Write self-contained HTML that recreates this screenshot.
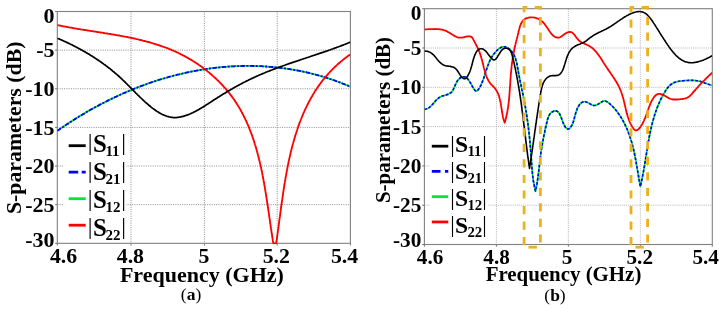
<!DOCTYPE html>
<html><head><meta charset="utf-8"><title>S-parameters</title>
<style>html,body{margin:0;padding:0;background:#fff;} svg{display:block;}</style></head>
<body>
<svg width="722" height="309" viewBox="0 0 722 309">
<rect width="722" height="309" fill="#fff"/>
<clipPath id="cL"><rect x="57.3" y="11.5" width="293.1" height="233"/></clipPath>
<path d="M131,11.5V243.3 M204.4,11.5V243.3 M277.2,11.5V243.3 M57.3,50.13H350.4 M57.3,88.77H350.4 M57.3,127.4H350.4 M57.3,166.03H350.4 M57.3,204.67H350.4" stroke="#8c8c8c" stroke-width="1" stroke-dasharray="1 1.27" fill="none"/>
<rect x="64" y="130" width="62" height="110" fill="#fff"/>
<path d="M57.3,243.3v2.2 M131,243.3v2.2 M204.4,243.3v2.2 M277.2,243.3v2.2 M350.4,243.3v2.2 M57.3,11.5h-2.2 M57.3,50.13h-2.2 M57.3,88.77h-2.2 M57.3,127.4h-2.2 M57.3,166.03h-2.2 M57.3,204.67h-2.2 M57.3,243.3h-2.2" stroke="#707070" stroke-width="1" fill="none"/>
<rect x="57.3" y="11.5" width="293.1" height="231.8" fill="none" stroke="#808080" stroke-width="1.1"/>
<g clip-path="url(#cL)" fill="none" stroke-width="2.6" stroke-linejoin="round" stroke-linecap="butt">
<path d="M57.3,130.8 58,130.3 58.6,129.9 59.3,129.4 59.9,129.0 60.6,128.5 61.2,128.1 61.9,127.6 62.6,127.2 63.2,126.7 63.9,126.3 64.6,125.8 65.2,125.4 65.9,124.9 66.6,124.5 67.2,124.1 67.9,123.6 68.6,123.2 69.2,122.8 69.9,122.3 70.6,121.9 71.3,121.4 71.9,121.0 72.6,120.6 73.3,120.2 74,119.7 74.6,119.3 75.3,118.9 76,118.4 76.7,118.0 77.4,117.6 78.1,117.2 78.7,116.8 79.4,116.3 80.1,115.9 80.8,115.5 81.5,115.1 82.2,114.7 82.9,114.3 83.6,113.9 84.3,113.5 84.9,113.0 85.6,112.6 86.3,112.2 87,111.8 87.7,111.4 88.4,111.0 89.1,110.6 89.8,110.2 90.5,109.8 91.2,109.4 91.9,109.0 92.6,108.7 93.3,108.3 94,107.9 94.7,107.5 95.4,107.1 96.2,106.7 96.9,106.3 97.6,106.0 98.3,105.6 99,105.2 99.7,104.8 100.4,104.4 101.1,104.1 101.8,103.7 102.6,103.3 103.3,102.9 104,102.6 104.7,102.2 105.4,101.8 106.1,101.5 106.9,101.1 107.6,100.8 108.3,100.4 109,100.0 109.7,99.7 110.5,99.3 111.2,99.0 111.9,98.6 112.6,98.3 113.4,97.9 114.1,97.6 114.8,97.2 115.6,96.9 116.3,96.6 117,96.2 117.7,95.9 118.5,95.5 119.2,95.2 119.9,94.9 120.7,94.5 121.4,94.2 122.1,93.9 122.9,93.5 123.6,93.2 124.4,92.9 125.1,92.6 125.8,92.3 126.6,91.9 127.3,91.6 128,91.3 128.8,91.0 129.5,90.7 130.3,90.4 131,90.1 131.8,89.8 132.5,89.4 133.3,89.1 134,88.8 134.7,88.5 135.5,88.2 136.2,87.9 137,87.7 137.7,87.4 138.5,87.1 139.2,86.8 140,86.5 140.7,86.2 141.5,85.9 142.2,85.6 143,85.4 143.8,85.1 144.5,84.8 145.3,84.5 146,84.3 146.8,84.0 147.5,83.7 148.3,83.4 149.1,83.2 149.8,82.9 150.6,82.7 151.3,82.4 152.1,82.1 152.9,81.9 153.6,81.6 154.4,81.4 155.1,81.1 155.9,80.9 156.7,80.6 157.4,80.4 158.2,80.1 159,79.9 159.7,79.7 160.5,79.4 161.3,79.2 162,78.9 162.8,78.7 163.6,78.5 164.3,78.3 165.1,78.0 165.9,77.8 166.7,77.6 167.4,77.4 168.2,77.2 169,76.9 169.8,76.7 170.5,76.5 171.3,76.3 172.1,76.1 172.9,75.9 173.6,75.7 174.4,75.5 175.2,75.3 176,75.1 176.7,74.9 177.5,74.7 178.3,74.5 179.1,74.3 179.8,74.1 180.6,73.9 181.4,73.8 182.2,73.6 183,73.4 183.8,73.2 184.5,73.0 185.3,72.9 186.1,72.7 186.9,72.5 187.7,72.4 188.4,72.2 189.2,72.0 190,71.9 190.8,71.7 191.6,71.6 192.4,71.4 193.2,71.2 193.9,71.1 194.7,70.9 195.5,70.8 196.3,70.7 197.1,70.5 197.9,70.4 198.7,70.2 199.5,70.1 200.2,70.0 201,69.8 201.8,69.7 202.6,69.6 203.4,69.5 204.2,69.3 205,69.2 205.8,69.1 206.6,69.0 207.4,68.9 208.1,68.7 208.9,68.6 209.7,68.5 210.5,68.4 211.3,68.3 212.1,68.2 212.9,68.1 213.7,68.0 214.5,67.9 215.3,67.8 216.1,67.7 216.9,67.7 217.7,67.6 218.5,67.5 219.3,67.4 220,67.3 220.8,67.2 221.6,67.2 222.4,67.1 223.2,67.0 224,66.9 224.8,66.9 225.6,66.8 226.4,66.8 227.2,66.7 228,66.6 228.8,66.6 229.6,66.5 230.4,66.5 231.2,66.4 232,66.4 232.8,66.3 233.6,66.3 234.4,66.3 235.2,66.2 236,66.2 236.8,66.1 237.6,66.1 238.4,66.1 239.2,66.1 240,66.0 240.7,66.0 241.5,66.0 242.3,66.0 243.1,66.0 243.9,65.9 244.7,65.9 245.5,65.9 246.3,65.9 247.1,65.9 247.9,65.9 248.7,65.9 249.5,65.9 250.3,65.9 251.1,65.9 251.9,65.9 252.7,66.0 253.5,66.0 254.3,66.0 255.1,66.0 255.9,66.0 256.7,66.1 257.5,66.1 258.3,66.1 259.1,66.1 259.9,66.2 260.7,66.2 261.5,66.2 262.3,66.3 263.1,66.3 263.9,66.4 264.7,66.4 265.5,66.5 266.3,66.5 267,66.6 267.8,66.6 268.6,66.7 269.4,66.8 270.2,66.8 271,66.9 271.8,67.0 272.6,67.0 273.4,67.1 274.2,67.2 275,67.3 275.8,67.3 276.6,67.4 277.4,67.5 278.2,67.6 279,67.7 279.8,67.8 280.6,67.9 281.3,68.0 282.1,68.1 282.9,68.2 283.7,68.3 284.5,68.4 285.3,68.5 286.1,68.6 286.9,68.7 287.7,68.8 288.5,68.9 289.3,69.1 290,69.2 290.8,69.3 291.6,69.5 292.4,69.6 293.2,69.7 294,69.9 294.8,70.0 295.6,70.1 296.4,70.3 297.1,70.4 297.9,70.6 298.7,70.7 299.5,70.9 300.3,71.0 301.1,71.2 301.9,71.4 302.6,71.5 303.4,71.7 304.2,71.9 305,72.0 305.8,72.2 306.6,72.4 307.3,72.6 308.1,72.7 308.9,72.9 309.7,73.1 310.5,73.3 311.3,73.5 312,73.7 312.8,73.9 313.6,74.1 314.4,74.3 315.2,74.5 315.9,74.7 316.7,74.9 317.5,75.1 318.3,75.3 319,75.5 319.8,75.8 320.6,76.0 321.4,76.2 322.1,76.4 322.9,76.7 323.7,76.9 324.5,77.1 325.2,77.4 326,77.6 326.8,77.9 327.5,78.1 328.3,78.4 329.1,78.6 329.9,78.9 330.6,79.1 331.4,79.4 332.2,79.6 332.9,79.9 333.7,80.2 334.5,80.4 335.2,80.7 336,81.0 336.8,81.3 337.5,81.5 338.3,81.8 339,82.1 339.8,82.4 340.6,82.7 341.3,83.0 342.1,83.3 342.8,83.6 343.6,83.9 344.4,84.2 345.1,84.5 345.9,84.8 346.6,85.1 347.4,85.4 348.1,85.7 348.9,86.1 349.6,86.4 350.4,86.7" stroke="#00e632" stroke-width="1.8"/>
<path d="M57.3,130.8 58,130.3 58.6,129.9 59.3,129.4 59.9,129.0 60.6,128.5 61.2,128.1 61.9,127.6 62.6,127.2 63.2,126.7 63.9,126.3 64.6,125.8 65.2,125.4 65.9,124.9 66.6,124.5 67.2,124.1 67.9,123.6 68.6,123.2 69.2,122.8 69.9,122.3 70.6,121.9 71.3,121.4 71.9,121.0 72.6,120.6 73.3,120.2 74,119.7 74.6,119.3 75.3,118.9 76,118.4 76.7,118.0 77.4,117.6 78.1,117.2 78.7,116.8 79.4,116.3 80.1,115.9 80.8,115.5 81.5,115.1 82.2,114.7 82.9,114.3 83.6,113.9 84.3,113.5 84.9,113.0 85.6,112.6 86.3,112.2 87,111.8 87.7,111.4 88.4,111.0 89.1,110.6 89.8,110.2 90.5,109.8 91.2,109.4 91.9,109.0 92.6,108.7 93.3,108.3 94,107.9 94.7,107.5 95.4,107.1 96.2,106.7 96.9,106.3 97.6,106.0 98.3,105.6 99,105.2 99.7,104.8 100.4,104.4 101.1,104.1 101.8,103.7 102.6,103.3 103.3,102.9 104,102.6 104.7,102.2 105.4,101.8 106.1,101.5 106.9,101.1 107.6,100.8 108.3,100.4 109,100.0 109.7,99.7 110.5,99.3 111.2,99.0 111.9,98.6 112.6,98.3 113.4,97.9 114.1,97.6 114.8,97.2 115.6,96.9 116.3,96.6 117,96.2 117.7,95.9 118.5,95.5 119.2,95.2 119.9,94.9 120.7,94.5 121.4,94.2 122.1,93.9 122.9,93.5 123.6,93.2 124.4,92.9 125.1,92.6 125.8,92.3 126.6,91.9 127.3,91.6 128,91.3 128.8,91.0 129.5,90.7 130.3,90.4 131,90.1 131.8,89.8 132.5,89.4 133.3,89.1 134,88.8 134.7,88.5 135.5,88.2 136.2,87.9 137,87.7 137.7,87.4 138.5,87.1 139.2,86.8 140,86.5 140.7,86.2 141.5,85.9 142.2,85.6 143,85.4 143.8,85.1 144.5,84.8 145.3,84.5 146,84.3 146.8,84.0 147.5,83.7 148.3,83.4 149.1,83.2 149.8,82.9 150.6,82.7 151.3,82.4 152.1,82.1 152.9,81.9 153.6,81.6 154.4,81.4 155.1,81.1 155.9,80.9 156.7,80.6 157.4,80.4 158.2,80.1 159,79.9 159.7,79.7 160.5,79.4 161.3,79.2 162,78.9 162.8,78.7 163.6,78.5 164.3,78.3 165.1,78.0 165.9,77.8 166.7,77.6 167.4,77.4 168.2,77.2 169,76.9 169.8,76.7 170.5,76.5 171.3,76.3 172.1,76.1 172.9,75.9 173.6,75.7 174.4,75.5 175.2,75.3 176,75.1 176.7,74.9 177.5,74.7 178.3,74.5 179.1,74.3 179.8,74.1 180.6,73.9 181.4,73.8 182.2,73.6 183,73.4 183.8,73.2 184.5,73.0 185.3,72.9 186.1,72.7 186.9,72.5 187.7,72.4 188.4,72.2 189.2,72.0 190,71.9 190.8,71.7 191.6,71.6 192.4,71.4 193.2,71.2 193.9,71.1 194.7,70.9 195.5,70.8 196.3,70.7 197.1,70.5 197.9,70.4 198.7,70.2 199.5,70.1 200.2,70.0 201,69.8 201.8,69.7 202.6,69.6 203.4,69.5 204.2,69.3 205,69.2 205.8,69.1 206.6,69.0 207.4,68.9 208.1,68.7 208.9,68.6 209.7,68.5 210.5,68.4 211.3,68.3 212.1,68.2 212.9,68.1 213.7,68.0 214.5,67.9 215.3,67.8 216.1,67.7 216.9,67.7 217.7,67.6 218.5,67.5 219.3,67.4 220,67.3 220.8,67.2 221.6,67.2 222.4,67.1 223.2,67.0 224,66.9 224.8,66.9 225.6,66.8 226.4,66.8 227.2,66.7 228,66.6 228.8,66.6 229.6,66.5 230.4,66.5 231.2,66.4 232,66.4 232.8,66.3 233.6,66.3 234.4,66.3 235.2,66.2 236,66.2 236.8,66.1 237.6,66.1 238.4,66.1 239.2,66.1 240,66.0 240.7,66.0 241.5,66.0 242.3,66.0 243.1,66.0 243.9,65.9 244.7,65.9 245.5,65.9 246.3,65.9 247.1,65.9 247.9,65.9 248.7,65.9 249.5,65.9 250.3,65.9 251.1,65.9 251.9,65.9 252.7,66.0 253.5,66.0 254.3,66.0 255.1,66.0 255.9,66.0 256.7,66.1 257.5,66.1 258.3,66.1 259.1,66.1 259.9,66.2 260.7,66.2 261.5,66.2 262.3,66.3 263.1,66.3 263.9,66.4 264.7,66.4 265.5,66.5 266.3,66.5 267,66.6 267.8,66.6 268.6,66.7 269.4,66.8 270.2,66.8 271,66.9 271.8,67.0 272.6,67.0 273.4,67.1 274.2,67.2 275,67.3 275.8,67.3 276.6,67.4 277.4,67.5 278.2,67.6 279,67.7 279.8,67.8 280.6,67.9 281.3,68.0 282.1,68.1 282.9,68.2 283.7,68.3 284.5,68.4 285.3,68.5 286.1,68.6 286.9,68.7 287.7,68.8 288.5,68.9 289.3,69.1 290,69.2 290.8,69.3 291.6,69.5 292.4,69.6 293.2,69.7 294,69.9 294.8,70.0 295.6,70.1 296.4,70.3 297.1,70.4 297.9,70.6 298.7,70.7 299.5,70.9 300.3,71.0 301.1,71.2 301.9,71.4 302.6,71.5 303.4,71.7 304.2,71.9 305,72.0 305.8,72.2 306.6,72.4 307.3,72.6 308.1,72.7 308.9,72.9 309.7,73.1 310.5,73.3 311.3,73.5 312,73.7 312.8,73.9 313.6,74.1 314.4,74.3 315.2,74.5 315.9,74.7 316.7,74.9 317.5,75.1 318.3,75.3 319,75.5 319.8,75.8 320.6,76.0 321.4,76.2 322.1,76.4 322.9,76.7 323.7,76.9 324.5,77.1 325.2,77.4 326,77.6 326.8,77.9 327.5,78.1 328.3,78.4 329.1,78.6 329.9,78.9 330.6,79.1 331.4,79.4 332.2,79.6 332.9,79.9 333.7,80.2 334.5,80.4 335.2,80.7 336,81.0 336.8,81.3 337.5,81.5 338.3,81.8 339,82.1 339.8,82.4 340.6,82.7 341.3,83.0 342.1,83.3 342.8,83.6 343.6,83.9 344.4,84.2 345.1,84.5 345.9,84.8 346.6,85.1 347.4,85.4 348.1,85.7 348.9,86.1 349.6,86.4 350.4,86.7" stroke="#0000ff" stroke-dasharray="4.4 1.5 2 1.5" stroke-width="1.8"/>
<path d="M57.3,25.0 58.1,25.2 58.8,25.3 59.6,25.5 60.4,25.6 61.1,25.8 61.9,26.0 62.7,26.1 63.4,26.3 64.2,26.4 65,26.6 65.8,26.7 66.5,26.9 67.3,27.0 68.1,27.2 68.9,27.3 69.6,27.5 70.4,27.6 71.2,27.7 72,27.9 72.8,28.0 73.5,28.2 74.3,28.3 75.1,28.4 75.9,28.6 76.7,28.7 77.5,28.8 78.3,29.0 79,29.1 79.8,29.2 80.6,29.3 81.4,29.5 82.2,29.6 83,29.7 83.8,29.9 84.6,30.0 85.4,30.1 86.2,30.2 87,30.4 87.8,30.5 88.6,30.6 89.4,30.7 90.2,30.9 91,31.0 91.8,31.1 92.6,31.2 93.4,31.4 94.2,31.5 95,31.6 95.8,31.7 96.6,31.9 97.4,32.0 98.2,32.1 99,32.2 99.8,32.4 100.6,32.5 101.4,32.6 102.2,32.7 103,32.9 103.8,33.0 104.6,33.1 105.4,33.3 106.2,33.4 107,33.5 107.8,33.6 108.6,33.8 109.4,33.9 110.2,34.0 111,34.2 111.8,34.3 112.6,34.4 113.4,34.6 114.2,34.7 115,34.8 115.8,35.0 116.6,35.1 117.4,35.3 118.2,35.4 119,35.5 119.8,35.7 120.6,35.8 121.4,36.0 122.2,36.1 123,36.3 123.8,36.4 124.6,36.6 125.4,36.7 126.2,36.9 127,37.0 127.8,37.2 128.6,37.4 129.4,37.5 130.2,37.7 131,37.9 131.8,38.0 132.6,38.2 133.4,38.4 134.2,38.5 135,38.7 135.7,38.9 136.5,39.1 137.3,39.2 138.1,39.4 138.9,39.6 139.7,39.8 140.5,40.0 141.3,40.2 142.1,40.4 142.8,40.6 143.6,40.8 144.4,41.0 145.2,41.2 146,41.4 146.7,41.6 147.5,41.8 148.3,42.0 149.1,42.2 149.9,42.4 150.6,42.6 151.4,42.9 152.2,43.1 153,43.3 153.7,43.6 154.5,43.8 155.3,44.0 156,44.3 156.8,44.5 157.6,44.8 158.3,45.0 159.1,45.3 159.9,45.5 160.6,45.8 161.4,46.0 162.1,46.3 162.9,46.6 163.7,46.8 164.4,47.1 165.2,47.4 165.9,47.7 166.7,48.0 167.4,48.2 168.2,48.5 168.9,48.8 169.7,49.1 170.4,49.4 171.1,49.7 171.9,50.1 172.6,50.4 173.4,50.7 174.1,51.0 174.8,51.3 175.6,51.7 176.3,52.0 177,52.3 177.7,52.7 178.5,53.0 179.2,53.4 179.9,53.7 180.6,54.1 181.4,54.5 182.1,54.8 182.8,55.2 183.5,55.6 184.2,55.9 184.9,56.3 185.6,56.7 186.3,57.1 187,57.5 187.7,57.9 188.4,58.3 189.1,58.7 189.8,59.1 190.5,59.5 191.2,59.9 191.9,60.3 192.6,60.8 193.3,61.2 193.9,61.6 194.6,62.0 195.3,62.5 196,62.9 196.6,63.4 197.3,63.8 198,64.3 198.6,64.7 199.3,65.2 199.9,65.6 200.6,66.1 201.3,66.6 201.9,67.0 202.6,67.5 203.2,68.0 203.8,68.5 204.5,68.9 205.1,69.4 205.7,69.9 206.4,70.4 207,70.9 207.6,71.4 208.3,71.9 208.9,72.4 209.5,72.9 210.1,73.5 210.7,74.0 211.3,74.5 211.9,75.0 212.5,75.6 213.1,76.1 213.7,76.6 214.3,77.2 214.9,77.7 215.5,78.2 216.1,78.8 216.6,79.3 217.2,79.9 217.8,80.4 218.4,81.0 218.9,81.6 219.5,82.1 220,82.7 220.6,83.3 221.2,83.8 221.7,84.4 222.2,85.0 222.8,85.6 223.3,86.2 223.9,86.8 224.4,87.4 224.9,87.9 225.4,88.5 226,89.1 226.5,89.8 227,90.4 227.5,91.0 228,91.6 228.5,92.2 229,92.8 229.5,93.4 230,94.1 230.4,94.7 230.9,95.3 231.4,95.9 231.9,96.6 232.3,97.2 232.8,97.9 233.3,98.5 233.7,99.1 234.2,99.8 234.6,100.4 235.1,101.1 235.5,101.8 235.9,102.4 236.4,103.1 236.8,103.7 237.2,104.4 237.6,105.1 238,105.7 238.5,106.4 238.9,107.1 239.3,107.8 239.7,108.4 240.1,109.1 240.4,109.8 240.8,110.5 241.2,111.2 241.6,111.9 242,112.6 242.3,113.3 242.7,114.0 243.1,114.7 243.4,115.4 243.8,116.1 244.1,116.8 244.5,117.5 244.8,118.2 245.2,118.9 245.5,119.6 245.9,120.4 246.2,121.1 246.5,121.8 246.8,122.5 247.2,123.2 247.5,124.0 247.8,124.7 248.1,125.4 248.4,126.2 248.7,126.9 249,127.6 249.3,128.4 249.6,129.1 249.9,129.9 250.2,130.6 250.5,131.3 250.8,132.1 251.1,132.8 251.3,133.6 251.6,134.3 251.9,135.1 252.2,135.9 252.4,136.6 252.7,137.4 253,138.1 253.2,138.9 253.5,139.6 253.7,140.4 254,141.2 254.2,141.9 254.5,142.7 254.7,143.5 254.9,144.2 255.2,145.0 255.4,145.8 255.7,146.6 255.9,147.3 256.1,148.1 256.3,148.9 256.6,149.7 256.8,150.5 257,151.2 257.2,152.0 257.4,152.8 257.6,153.6 257.8,154.4 258,155.2 258.2,155.9 258.5,156.7 258.6,157.5 258.8,158.3 259,159.1 259.2,159.9 259.4,160.7 259.6,161.5 259.8,162.3 260,163.1 260.2,163.9 260.4,164.6 260.5,165.4 260.7,166.2 260.9,167.0 261.1,167.8 261.2,168.6 261.4,169.4 261.6,170.2 261.7,171.0 261.9,171.8 262.1,172.6 262.2,173.4 262.4,174.2 262.5,175.0 262.7,175.9 262.9,176.7 263,177.5 263.2,178.3 263.3,179.1 263.5,179.9 263.6,180.7 263.8,181.5 263.9,182.3 264.1,183.1 264.2,183.9 264.3,184.7 264.5,185.5 264.6,186.3 264.8,187.1 264.9,187.9 265,188.7 265.2,189.6 265.3,190.4 265.4,191.2 265.6,192.0 265.7,192.8 265.8,193.6 266,194.4 266.1,195.2 266.2,196.0 266.3,196.8 266.5,197.6 266.6,198.4 266.7,199.2 266.8,200.0 267,200.8 267.1,201.7 267.2,202.5 267.3,203.3 267.5,204.1 267.6,204.9 267.7,205.7 267.8,206.5 267.9,207.3 268.1,208.1 268.2,208.9 268.3,209.7 268.4,210.5 268.5,211.3 268.6,212.1 268.8,212.9 268.9,213.7 269,214.5 269.1,215.3 269.2,216.1 269.3,216.9 269.4,217.7 269.6,218.4 269.7,219.2 269.8,220.0 269.9,220.8 270,221.6 270.1,222.4 270.2,223.2 270.4,224.0 270.5,224.8 270.6,225.5 270.7,226.3 270.8,227.1 270.9,227.9 271,228.7 271.2,229.5 271.3,230.2 271.4,231.0 271.5,231.8 271.6,232.6 271.7,233.3 271.9,234.1 272,234.9 272.1,235.7 272.2,236.4 272.3,237.2 272.4,238.0 272.6,238.7 272.7,239.5 272.8,240.3 272.9,241.0 273.1,241.8 273.2,242.5 273.3,243.3 276.2,243.3 276.3,242.5 276.4,241.8 276.5,241.0 276.6,240.2 276.8,239.5 276.9,238.7 277,237.9 277.1,237.1 277.2,236.4 277.3,235.6 277.4,234.8 277.5,234.0 277.6,233.3 277.7,232.5 277.8,231.7 277.9,230.9 278.1,230.1 278.2,229.4 278.3,228.6 278.4,227.8 278.5,227.0 278.6,226.2 278.7,225.4 278.8,224.6 278.9,223.8 279,223.1 279.1,222.3 279.2,221.5 279.3,220.7 279.4,219.9 279.5,219.1 279.6,218.3 279.7,217.5 279.9,216.7 280,215.9 280.1,215.1 280.2,214.3 280.3,213.5 280.4,212.7 280.5,211.9 280.6,211.1 280.7,210.3 280.8,209.5 280.9,208.7 281,207.9 281.1,207.1 281.3,206.3 281.4,205.5 281.5,204.7 281.6,203.9 281.7,203.1 281.8,202.3 281.9,201.5 282,200.7 282.2,199.9 282.3,199.1 282.4,198.3 282.5,197.5 282.6,196.7 282.7,195.8 282.9,195.0 283,194.2 283.1,193.4 283.2,192.6 283.3,191.8 283.5,191.0 283.6,190.2 283.7,189.4 283.8,188.6 284,187.8 284.1,187.0 284.2,186.2 284.3,185.4 284.5,184.5 284.6,183.7 284.7,182.9 284.9,182.1 285,181.3 285.1,180.5 285.3,179.7 285.4,178.9 285.5,178.1 285.7,177.3 285.8,176.5 286,175.7 286.1,174.9 286.3,174.1 286.4,173.3 286.5,172.5 286.7,171.6 286.8,170.8 287,170.0 287.2,169.2 287.3,168.4 287.5,167.6 287.6,166.8 287.8,166.0 287.9,165.2 288.1,164.4 288.3,163.6 288.4,162.8 288.6,162.0 288.8,161.2 288.9,160.4 289.1,159.6 289.3,158.8 289.5,158.0 289.6,157.3 289.8,156.5 290,155.7 290.2,154.9 290.4,154.1 290.5,153.3 290.7,152.5 290.9,151.7 291.1,150.9 291.3,150.1 291.5,149.3 291.7,148.6 291.9,147.8 292.1,147.0 292.3,146.2 292.5,145.4 292.7,144.6 292.9,143.9 293.1,143.1 293.4,142.3 293.6,141.5 293.8,140.7 294,140.0 294.2,139.2 294.5,138.4 294.7,137.6 294.9,136.9 295.2,136.1 295.4,135.3 295.6,134.6 295.9,133.8 296.1,133.0 296.4,132.3 296.6,131.5 296.8,130.7 297.1,130.0 297.4,129.2 297.6,128.5 297.9,127.7 298.1,126.9 298.4,126.2 298.7,125.4 298.9,124.7 299.2,123.9 299.5,123.2 299.8,122.4 300,121.7 300.3,121.0 300.6,120.2 300.9,119.5 301.2,118.7 301.5,118.0 301.8,117.3 302.1,116.5 302.4,115.8 302.7,115.1 303,114.3 303.3,113.6 303.6,112.9 304,112.1 304.3,111.4 304.6,110.7 304.9,110.0 305.3,109.3 305.6,108.5 305.9,107.8 306.3,107.1 306.6,106.4 307,105.7 307.3,105.0 307.7,104.3 308,103.6 308.4,102.9 308.7,102.2 309.1,101.5 309.5,100.8 309.9,100.1 310.2,99.4 310.6,98.7 311,98.0 311.4,97.3 311.8,96.7 312.2,96.0 312.6,95.3 313,94.6 313.4,93.9 313.8,93.3 314.2,92.6 314.6,91.9 315,91.3 315.4,90.6 315.9,89.9 316.3,89.3 316.7,88.6 317.2,88.0 317.6,87.3 318.1,86.7 318.5,86.0 319,85.4 319.4,84.8 319.9,84.1 320.3,83.5 320.8,82.8 321.3,82.2 321.8,81.6 322.2,81.0 322.7,80.3 323.2,79.7 323.7,79.1 324.2,78.5 324.7,77.9 325.2,77.3 325.7,76.7 326.2,76.1 326.7,75.5 327.3,74.9 327.8,74.3 328.3,73.7 328.9,73.1 329.4,72.5 329.9,71.9 330.5,71.3 331,70.7 331.6,70.2 332.2,69.6 332.7,69.0 333.3,68.5 333.9,67.9 334.4,67.3 335,66.8 335.6,66.2 336.2,65.7 336.8,65.1 337.4,64.6 338,64.0 338.6,63.5 339.2,63.0 339.8,62.4 340.5,61.9 341.1,61.4 341.7,60.9 342.4,60.4 343,59.8 343.7,59.3 344.3,58.8 345,58.3 345.6,57.8 346.3,57.3 347,56.8 347.6,56.3 348.3,55.8 349,55.4 349.7,54.9 350.4,54.4" stroke="#ff0000" stroke-width="1.85"/>
<path d="M57.3,38.2 58,38.5 58.8,38.8 59.5,39.1 60.2,39.5 61,39.8 61.7,40.1 62.4,40.4 63.2,40.7 63.9,41.1 64.6,41.4 65.4,41.7 66.1,42.1 66.8,42.4 67.5,42.7 68.3,43.1 69,43.4 69.7,43.8 70.4,44.1 71.1,44.5 71.9,44.8 72.6,45.2 73.3,45.6 74,45.9 74.7,46.3 75.4,46.7 76.2,47.0 76.9,47.4 77.6,47.8 78.3,48.2 79,48.5 79.7,48.9 80.4,49.3 81.1,49.7 81.8,50.1 82.5,50.5 83.2,50.9 83.9,51.3 84.6,51.7 85.3,52.1 86,52.5 86.7,52.9 87.4,53.3 88.1,53.7 88.8,54.1 89.5,54.5 90.2,55.0 90.8,55.4 91.5,55.8 92.2,56.2 92.9,56.7 93.6,57.1 94.2,57.5 94.9,58.0 95.6,58.4 96.3,58.9 96.9,59.3 97.6,59.7 98.3,60.2 98.9,60.7 99.6,61.1 100.2,61.6 100.9,62.0 101.6,62.5 102.2,63.0 102.9,63.4 103.5,63.9 104.2,64.4 104.8,64.8 105.5,65.3 106.1,65.8 106.7,66.3 107.4,66.8 108,67.3 108.6,67.7 109.3,68.2 109.9,68.7 110.5,69.2 111.2,69.7 111.8,70.2 112.4,70.8 113,71.3 113.6,71.8 114.3,72.3 114.9,72.8 115.5,73.3 116.1,73.8 116.7,74.4 117.3,74.9 117.9,75.4 118.5,76.0 119.1,76.5 119.7,77.0 120.3,77.6 120.9,78.1 121.4,78.7 122,79.2 122.6,79.8 123.2,80.3 123.8,80.9 124.3,81.4 124.9,82.0 125.5,82.5 126,83.1 126.6,83.7 127.2,84.2 127.7,84.8 128.3,85.4 128.9,85.9 129.4,86.5 130,87.1 130.6,87.6 131.1,88.2 131.7,88.8 132.2,89.4 132.8,89.9 133.4,90.5 133.9,91.1 134.5,91.6 135.1,92.2 135.6,92.8 136.2,93.4 136.8,93.9 137.3,94.5 137.9,95.1 138.5,95.6 139.1,96.2 139.6,96.8 140.2,97.3 140.8,97.9 141.4,98.4 142,99.0 142.6,99.6 143.1,100.1 143.7,100.7 144.3,101.2 144.9,101.8 145.5,102.3 146.1,102.8 146.8,103.4 147.4,103.9 148,104.4 148.6,105.0 149.2,105.5 149.9,106.0 150.5,106.5 151.1,107.1 151.8,107.6 152.4,108.1 153.1,108.6 153.8,109.1 154.4,109.5 155.1,110.0 155.7,110.5 156.4,110.9 157.1,111.4 157.8,111.8 158.5,112.2 159.2,112.7 159.8,113.1 160.5,113.4 161.2,113.8 162,114.2 162.7,114.5 163.4,114.9 164.1,115.2 164.8,115.5 165.5,115.7 166.3,116.0 167,116.3 167.7,116.5 168.5,116.7 169.2,116.9 169.9,117.0 170.7,117.2 171.4,117.3 172.2,117.4 173,117.5 173.7,117.5 174.5,117.5 175.2,117.5 176,117.5 176.8,117.5 177.6,117.4 178.3,117.3 179.1,117.2 179.9,117.1 180.7,116.9 181.4,116.7 182.2,116.6 183,116.4 183.8,116.1 184.5,115.9 185.3,115.7 186.1,115.4 186.8,115.2 187.6,114.9 188.3,114.6 189.1,114.3 189.8,114.0 190.6,113.7 191.3,113.3 192,113.0 192.8,112.7 193.5,112.3 194.2,111.9 195,111.6 195.7,111.2 196.4,110.8 197.1,110.4 197.8,110.1 198.5,109.7 199.2,109.3 199.9,108.8 200.6,108.4 201.3,108.0 202,107.6 202.7,107.2 203.4,106.7 204.1,106.3 204.8,105.9 205.5,105.4 206.1,105.0 206.8,104.6 207.5,104.1 208.2,103.7 208.9,103.2 209.6,102.8 210.2,102.4 210.9,101.9 211.6,101.5 212.3,101.0 213,100.6 213.6,100.1 214.3,99.7 215,99.3 215.7,98.8 216.4,98.4 217.1,98.0 217.7,97.5 218.4,97.1 219.1,96.7 219.8,96.2 220.5,95.8 221.1,95.4 221.8,95.0 222.5,94.5 223.2,94.1 223.9,93.7 224.6,93.3 225.3,92.9 225.9,92.5 226.6,92.0 227.3,91.6 228,91.2 228.7,90.8 229.4,90.4 230.1,90.0 230.8,89.6 231.5,89.2 232.2,88.8 232.8,88.4 233.5,88.0 234.2,87.6 234.9,87.2 235.6,86.8 236.3,86.5 237,86.1 237.7,85.7 238.4,85.3 239.1,84.9 239.8,84.5 240.5,84.2 241.2,83.8 241.9,83.4 242.6,83.1 243.3,82.7 244,82.3 244.8,82.0 245.5,81.6 246.2,81.2 246.9,80.9 247.6,80.5 248.3,80.2 249,79.8 249.7,79.5 250.4,79.1 251.2,78.8 251.9,78.4 252.6,78.1 253.3,77.8 254,77.4 254.8,77.1 255.5,76.8 256.2,76.4 256.9,76.1 257.7,75.8 258.4,75.5 259.1,75.1 259.9,74.8 260.6,74.5 261.3,74.2 262.1,73.9 262.8,73.6 263.5,73.3 264.3,73.0 265,72.7 265.7,72.3 266.5,72.0 267.2,71.7 268,71.5 268.7,71.2 269.5,70.9 270.2,70.6 270.9,70.3 271.7,70.0 272.4,69.7 273.2,69.4 273.9,69.1 274.7,68.8 275.4,68.6 276.2,68.3 276.9,68.0 277.7,67.7 278.4,67.4 279.2,67.2 280,66.9 280.7,66.6 281.5,66.3 282.2,66.1 283,65.8 283.7,65.5 284.5,65.3 285.3,65.0 286,64.7 286.8,64.5 287.5,64.2 288.3,63.9 289,63.7 289.8,63.4 290.6,63.1 291.3,62.9 292.1,62.6 292.9,62.4 293.6,62.1 294.4,61.8 295.1,61.6 295.9,61.3 296.7,61.1 297.4,60.8 298.2,60.6 299,60.3 299.7,60.1 300.5,59.8 301.3,59.5 302,59.3 302.8,59.0 303.6,58.8 304.3,58.5 305.1,58.3 305.9,58.0 306.6,57.8 307.4,57.5 308.1,57.3 308.9,57.0 309.7,56.8 310.4,56.5 311.2,56.2 312,56.0 312.7,55.7 313.5,55.5 314.3,55.2 315,55.0 315.8,54.7 316.6,54.5 317.3,54.2 318.1,53.9 318.8,53.7 319.6,53.4 320.4,53.2 321.1,52.9 321.9,52.7 322.7,52.4 323.4,52.1 324.2,51.9 324.9,51.6 325.7,51.4 326.5,51.1 327.2,50.8 328,50.6 328.7,50.3 329.5,50.0 330.2,49.8 331,49.5 331.8,49.2 332.5,49.0 333.3,48.7 334,48.4 334.8,48.1 335.5,47.9 336.3,47.6 337,47.3 337.8,47.0 338.5,46.8 339.3,46.5 340,46.2 340.8,45.9 341.5,45.6 342.3,45.3 343,45.1 343.7,44.8 344.5,44.5 345.2,44.2 346,43.9 346.7,43.6 347.5,43.3 348.2,43.0 348.9,42.7 349.7,42.4 350.4,42.1" stroke="#000000" stroke-width="1.75"/>
</g>
<path d="M68.7,145.7H85.7" stroke="#000000" stroke-width="2.8"/>
<text x="87.8" y="149.7" font-size="23.6" font-family="'Liberation Serif', serif">|</text>
<text x="93.1" y="151.5" font-size="24.8" font-weight="bold" font-family="'Liberation Serif', serif">S</text>
<text x="105.4" y="155.9" font-size="15" font-weight="bold" font-family="'Liberation Serif', serif">11</text>
<text x="121.3" y="149.7" font-size="23.6" font-family="'Liberation Serif', serif">|</text>
<path d="M68.7,172.2h9.5M81.7,172.2H85.7" stroke="#0000ff" stroke-width="2.8"/>
<text x="87.8" y="177.8" font-size="23.6" font-family="'Liberation Serif', serif">|</text>
<text x="93.1" y="179.6" font-size="24.8" font-weight="bold" font-family="'Liberation Serif', serif">S</text>
<text x="105.4" y="184" font-size="15" font-weight="bold" font-family="'Liberation Serif', serif">21</text>
<text x="121.3" y="177.8" font-size="23.6" font-family="'Liberation Serif', serif">|</text>
<path d="M68.7,198.7H85.7" stroke="#00e632" stroke-width="2.8"/>
<text x="87.8" y="205.9" font-size="23.6" font-family="'Liberation Serif', serif">|</text>
<text x="93.1" y="207.7" font-size="24.8" font-weight="bold" font-family="'Liberation Serif', serif">S</text>
<text x="105.4" y="212.1" font-size="15" font-weight="bold" font-family="'Liberation Serif', serif">12</text>
<text x="121.3" y="205.9" font-size="23.6" font-family="'Liberation Serif', serif">|</text>
<path d="M68.7,225.2H85.7" stroke="#ff0000" stroke-width="2.8"/>
<text x="87.8" y="234" font-size="23.6" font-family="'Liberation Serif', serif">|</text>
<text x="93.1" y="235.8" font-size="24.8" font-weight="bold" font-family="'Liberation Serif', serif">S</text>
<text x="105.4" y="240.2" font-size="15" font-weight="bold" font-family="'Liberation Serif', serif">22</text>
<text x="121.3" y="234" font-size="23.6" font-family="'Liberation Serif', serif">|</text>
<clipPath id="cR"><rect x="424.4" y="8.7" width="287.9" height="237"/></clipPath>
<path d="M496.38,8.7V244.5 M568.35,8.7V244.5 M640.32,8.7V244.5 M424.4,48H712.3 M424.4,87.3H712.3 M424.4,126.6H712.3 M424.4,165.9H712.3 M424.4,205.2H712.3" stroke="#b4b4b4" stroke-width="1" stroke-dasharray="1 1.1" fill="none"/>
<rect x="430" y="130" width="58" height="108" fill="#fff"/>
<path d="M424.4,244.5v2.2 M496.38,244.5v2.2 M568.35,244.5v2.2 M640.32,244.5v2.2 M712.3,244.5v2.2 M424.4,8.7h-2.2 M424.4,48h-2.2 M424.4,87.3h-2.2 M424.4,126.6h-2.2 M424.4,165.9h-2.2 M424.4,205.2h-2.2 M424.4,244.5h-2.2" stroke="#707070" stroke-width="1" fill="none"/>
<rect x="424.4" y="8.7" width="287.9" height="235.8" fill="none" stroke="#808080" stroke-width="1.1"/>
<g clip-path="url(#cR)" fill="none" stroke-width="2.6" stroke-linejoin="round" stroke-linecap="butt">
<path d="M424.4,109.3 425.2,109.2 426,109.0 426.7,108.8 427.4,108.5 428.1,108.2 428.8,107.8 429.4,107.4 430,106.9 430.6,106.4 431.1,105.9 431.7,105.3 432.2,104.7 432.8,104.1 433.3,103.5 433.8,102.9 434.3,102.3 434.9,101.7 435.4,101.0 435.9,100.4 436.5,99.9 437.1,99.3 437.7,98.8 438.3,98.3 438.9,97.8 439.5,97.4 440.2,97.0 440.9,96.6 441.7,96.3 442.4,96.0 443.2,95.8 444,95.6 444.7,95.3 445.5,95.1 446.3,94.9 447,94.6 447.8,94.4 448.5,94.1 449.2,93.8 449.8,93.4 450.4,93.0 451,92.6 451.5,92.1 452,91.5 452.4,90.9 452.9,90.2 453.2,89.6 453.6,88.8 453.9,88.1 454.3,87.3 454.6,86.5 455,85.7 455.3,84.9 455.7,84.1 456,83.3 456.4,82.5 456.9,81.8 457.3,81.0 457.8,80.3 458.4,79.7 459,79.0 459.6,78.5 460.2,78.0 460.9,77.5 461.6,77.2 462.2,76.9 462.9,76.8 463.6,76.7 464.2,76.7 464.9,76.9 465.5,77.1 466.1,77.5 466.6,77.9 467.2,78.4 467.8,79.0 468.3,79.7 468.8,80.3 469.3,81.1 469.8,81.9 470.3,82.7 470.8,83.5 471.2,84.3 471.7,85.1 472.1,86.0 472.6,86.7 473,87.5 473.4,88.2 473.8,88.9 474.3,89.5 474.7,90.0 475.1,90.4 475.5,90.8 475.9,91.0 476.3,91.1 476.7,91.0 477.1,90.8 477.5,90.5 477.9,90.1 478.3,89.6 478.7,89.1 479.1,88.5 479.5,87.9 479.9,87.3 480.2,86.6 480.5,85.9 480.9,85.3 481.2,84.6 481.5,83.8 481.8,83.1 482.1,82.4 482.4,81.6 482.7,80.8 483,80.1 483.3,79.3 483.6,78.5 483.8,77.7 484.1,76.9 484.4,76.1 484.6,75.2 484.9,74.4 485.2,73.6 485.4,72.8 485.7,72.0 486,71.1 486.2,70.3 486.5,69.5 486.8,68.7 487,67.9 487.3,67.1 487.6,66.3 487.9,65.5 488.2,64.7 488.4,64.0 488.7,63.2 489.1,62.5 489.4,61.8 489.7,61.0 490,60.3 490.4,59.6 490.7,58.9 491.1,58.2 491.5,57.6 491.9,56.9 492.3,56.3 492.7,55.6 493.1,55.0 493.6,54.3 494.1,53.7 494.6,53.1 495.1,52.5 495.6,51.9 496.2,51.3 496.8,50.7 497.4,50.1 498,49.5 498.7,49.0 499.3,48.5 500,48.1 500.7,47.7 501.4,47.3 502.1,47.1 502.8,46.9 503.5,46.7 504.2,46.7 504.9,46.8 505.6,46.9 506.3,47.2 507,47.5 507.7,47.9 508.4,48.3 509.1,48.8 509.7,49.4 510.3,50.0 510.9,50.6 511.5,51.3 512,51.9 512.5,52.6 513,53.3 513.4,54.0 513.8,54.7 514.2,55.4 514.5,56.2 514.9,56.9 515.2,57.6 515.4,58.4 515.7,59.1 515.9,59.9 516.1,60.7 516.3,61.4 516.5,62.2 516.7,63.0 516.9,63.7 517,64.5 517.2,65.3 517.3,66.1 517.5,66.9 517.6,67.7 517.7,68.5 517.9,69.2 518,70.0 518.1,70.8 518.3,71.6 518.4,72.4 518.6,73.2 518.7,74.0 518.9,74.8 519,75.6 519.2,76.3 519.3,77.1 519.5,77.9 519.6,78.7 519.8,79.5 520,80.3 520.1,81.1 520.3,81.9 520.5,82.6 520.6,83.4 520.8,84.2 521,85.0 521.1,85.8 521.3,86.6 521.4,87.4 521.6,88.2 521.8,89.0 521.9,89.7 522.1,90.5 522.3,91.3 522.4,92.1 522.6,92.9 522.8,93.7 522.9,94.5 523.1,95.3 523.3,96.0 523.4,96.8 523.6,97.6 523.7,98.4 523.9,99.2 524,100.0 524.2,100.8 524.3,101.6 524.5,102.4 524.6,103.1 524.8,103.9 524.9,104.7 525.1,105.5 525.2,106.3 525.4,107.1 525.5,107.9 525.6,108.7 525.8,109.5 525.9,110.3 526,111.0 526.1,111.8 526.3,112.6 526.4,113.4 526.5,114.2 526.6,115.0 526.8,115.8 526.9,116.6 527,117.4 527.1,118.2 527.2,119.0 527.3,119.7 527.5,120.5 527.6,121.3 527.7,122.1 527.8,122.9 527.9,123.7 528,124.5 528.1,125.3 528.2,126.1 528.3,126.9 528.4,127.7 528.5,128.5 528.6,129.3 528.7,130.1 528.8,130.9 528.9,131.7 529,132.5 529,133.3 529.1,134.1 529.2,134.9 529.3,135.6 529.4,136.4 529.5,137.2 529.6,138.0 529.6,138.8 529.7,139.6 529.8,140.4 529.9,141.2 529.9,142.0 530,142.8 530.1,143.6 530.2,144.4 530.2,145.3 530.3,146.1 530.4,146.9 530.4,147.7 530.5,148.5 530.6,149.3 530.6,150.1 530.7,150.9 530.8,151.7 530.8,152.5 530.9,153.3 531,154.1 531,154.9 531.1,155.7 531.1,156.5 531.2,157.3 531.2,158.1 531.3,159.0 531.4,159.8 531.4,160.6 531.5,161.4 531.5,162.2 531.6,163.0 531.6,163.8 531.7,164.6 531.8,165.4 531.8,166.2 531.9,167.0 531.9,167.8 532,168.6 532.1,169.4 532.1,170.2 532.2,171.0 532.3,171.8 532.4,172.6 532.4,173.4 532.5,174.2 532.6,175.0 532.7,175.8 532.8,176.6 532.9,177.4 533,178.2 533.1,178.9 533.2,179.7 533.3,180.5 533.4,181.3 533.6,182.0 533.7,182.8 533.8,183.6 534,184.3 534.1,185.1 534.3,185.8 534.4,186.6 534.6,187.3 534.8,188.1 534.9,188.8 535.1,189.5 535.3,190.3 535.5,191.0 535.7,190.2 535.9,189.5 536,188.7 536.2,187.9 536.4,187.1 536.5,186.4 536.7,185.6 536.8,184.8 536.9,184.0 537.1,183.2 537.2,182.4 537.3,181.6 537.5,180.8 537.6,180.0 537.7,179.2 537.8,178.4 537.9,177.6 538,176.8 538.1,176.0 538.2,175.2 538.3,174.4 538.4,173.6 538.5,172.8 538.6,172.0 538.7,171.2 538.8,170.4 538.9,169.5 539,168.7 539.1,167.9 539.2,167.1 539.3,166.3 539.3,165.5 539.4,164.7 539.5,163.9 539.6,163.1 539.7,162.3 539.8,161.5 539.9,160.7 540,159.9 540.1,159.1 540.2,158.3 540.3,157.5 540.4,156.7 540.5,155.9 540.6,155.1 540.7,154.3 540.8,153.5 540.9,152.7 541,152.0 541.1,151.2 541.3,150.4 541.4,149.6 541.5,148.8 541.6,148.1 541.8,147.3 541.9,146.5 542,145.7 542.2,144.9 542.3,144.2 542.4,143.4 542.6,142.6 542.7,141.8 542.9,141.0 543,140.3 543.2,139.5 543.3,138.7 543.5,137.9 543.6,137.1 543.8,136.3 543.9,135.5 544.1,134.7 544.3,133.9 544.4,133.2 544.6,132.4 544.8,131.5 544.9,130.7 545.1,129.9 545.3,129.1 545.5,128.3 545.6,127.5 545.8,126.7 546,125.8 546.2,125.0 546.4,124.2 546.6,123.3 546.8,122.5 547,121.7 547.2,120.8 547.4,120.0 547.6,119.2 547.9,118.4 548.2,117.6 548.5,116.9 548.8,116.1 549.1,115.4 549.5,114.8 549.9,114.1 550.3,113.6 550.8,113.0 551.3,112.5 551.9,112.1 552.5,111.7 553.2,111.4 553.9,111.1 554.6,110.9 555.3,110.8 556,110.9 556.6,111.1 557.2,111.3 557.7,111.7 558.3,112.2 558.8,112.8 559.2,113.4 559.7,114.2 560.1,114.9 560.5,115.7 560.8,116.6 561.2,117.4 561.5,118.3 561.8,119.2 562.1,120.0 562.4,120.9 562.7,121.8 563.1,122.6 563.4,123.4 563.7,124.2 564.1,124.9 564.5,125.7 564.9,126.4 565.3,127.1 565.8,127.7 566.4,128.2 566.9,128.6 567.5,128.9 568,129.0 568.6,128.9 569.1,128.7 569.6,128.3 570.1,127.8 570.6,127.2 571,126.6 571.4,126.0 571.8,125.4 572.1,124.7 572.5,124.0 572.8,123.3 573,122.6 573.3,121.8 573.5,121.1 573.8,120.3 574,119.5 574.2,118.7 574.4,117.9 574.6,117.1 574.8,116.2 575.1,115.4 575.3,114.6 575.5,113.7 575.8,112.9 576,112.1 576.3,111.2 576.6,110.4 576.9,109.6 577.2,108.7 577.6,107.9 578,107.1 578.4,106.4 578.8,105.7 579.3,105.0 579.8,104.3 580.3,103.7 580.8,103.2 581.4,102.8 582,102.4 582.6,102.1 583.2,101.9 583.9,101.7 584.6,101.7 585.3,101.8 586.1,102.0 586.8,102.2 587.6,102.5 588.3,102.9 589.1,103.3 589.8,103.7 590.5,104.1 591.2,104.5 592,104.9 592.7,105.2 593.4,105.4 594.1,105.5 594.9,105.5 595.6,105.3 596.4,105.1 597.1,104.7 597.9,104.3 598.6,103.9 599.4,103.4 600.2,102.9 600.9,102.4 601.7,101.9 602.4,101.6 603.1,101.2 603.8,101.0 604.5,100.9 605.2,101.0 605.9,101.2 606.5,101.5 607.2,101.8 607.8,102.3 608.4,102.7 609,103.2 609.6,103.7 610.2,104.2 610.8,104.8 611.4,105.3 612,105.9 612.6,106.4 613.1,107.0 613.7,107.6 614.2,108.2 614.8,108.9 615.3,109.5 615.8,110.1 616.4,110.8 616.9,111.4 617.4,112.1 617.9,112.8 618.3,113.4 618.8,114.1 619.3,114.8 619.7,115.4 620.2,116.1 620.6,116.8 621.1,117.5 621.5,118.2 621.9,118.9 622.3,119.6 622.7,120.3 623.1,121.0 623.5,121.7 623.9,122.4 624.2,123.1 624.6,123.8 625,124.5 625.3,125.2 625.6,125.9 626,126.6 626.3,127.4 626.6,128.1 627,128.8 627.3,129.6 627.6,130.3 627.9,131.0 628.2,131.8 628.4,132.5 628.7,133.2 629,134.0 629.3,134.7 629.5,135.5 629.8,136.2 630,137.0 630.3,137.7 630.5,138.5 630.8,139.3 631,140.0 631.2,140.8 631.5,141.5 631.7,142.3 631.9,143.1 632.1,143.8 632.3,144.6 632.5,145.4 632.7,146.2 632.9,146.9 633.1,147.7 633.3,148.5 633.5,149.3 633.7,150.1 633.8,150.8 634,151.6 634.2,152.4 634.4,153.2 634.5,154.0 634.7,154.8 634.8,155.5 635,156.3 635.2,157.1 635.3,157.9 635.5,158.7 635.6,159.5 635.8,160.3 635.9,161.1 636.1,161.9 636.2,162.7 636.3,163.5 636.5,164.3 636.6,165.0 636.8,165.8 636.9,166.6 637,167.4 637.2,168.2 637.3,169.0 637.4,169.8 637.6,170.6 637.7,171.4 637.8,172.2 638,173.0 638.1,173.8 638.2,174.6 638.4,175.4 638.5,176.2 638.6,177.0 638.8,177.8 638.9,178.6 639,179.4 639.2,180.2 639.3,181.0 639.4,181.8 639.6,182.5 639.7,183.3 639.9,184.1 640,184.9 640.2,185.7 640.3,186.5 640.5,185.7 640.7,185.0 640.9,184.2 641,183.4 641.2,182.6 641.4,181.9 641.6,181.1 641.7,180.3 641.9,179.5 642.1,178.7 642.2,178.0 642.4,177.2 642.5,176.4 642.7,175.6 642.9,174.8 643,174.0 643.2,173.3 643.3,172.5 643.4,171.7 643.6,170.9 643.7,170.1 643.9,169.3 644,168.5 644.1,167.7 644.3,166.9 644.4,166.1 644.6,165.3 644.7,164.5 644.8,163.7 644.9,162.9 645.1,162.1 645.2,161.3 645.3,160.5 645.5,159.7 645.6,158.9 645.7,158.1 645.8,157.3 646,156.5 646.1,155.7 646.2,154.9 646.4,154.1 646.5,153.3 646.6,152.5 646.7,151.7 646.9,150.9 647,150.1 647.1,149.3 647.3,148.5 647.4,147.7 647.5,146.9 647.7,146.1 647.8,145.3 647.9,144.5 648.1,143.7 648.2,142.9 648.3,142.1 648.5,141.3 648.6,140.5 648.8,139.7 648.9,138.9 649.1,138.1 649.2,137.3 649.4,136.5 649.5,135.8 649.7,135.0 649.8,134.2 650,133.4 650.1,132.6 650.3,131.8 650.5,131.0 650.7,130.2 650.8,129.4 651,128.6 651.2,127.8 651.4,127.1 651.5,126.3 651.7,125.5 651.9,124.7 652.1,123.9 652.3,123.1 652.5,122.4 652.7,121.6 652.9,120.8 653.1,120.0 653.4,119.3 653.6,118.5 653.8,117.7 654,116.9 654.3,116.2 654.5,115.4 654.7,114.6 655,113.9 655.2,113.1 655.5,112.4 655.8,111.6 656,110.8 656.3,110.1 656.6,109.3 656.8,108.6 657.1,107.8 657.4,107.1 657.7,106.3 658,105.6 658.3,104.9 658.6,104.1 658.9,103.4 659.3,102.6 659.6,101.9 659.9,101.2 660.3,100.4 660.6,99.7 661,99.0 661.3,98.3 661.7,97.6 662.1,96.8 662.4,96.1 662.8,95.4 663.2,94.7 663.6,94.0 664,93.3 664.4,92.6 664.9,91.9 665.3,91.2 665.7,90.5 666.2,89.8 666.6,89.2 667.1,88.5 667.6,87.9 668.1,87.2 668.6,86.6 669.1,86.1 669.7,85.5 670.3,85.0 670.9,84.5 671.5,84.1 672.1,83.7 672.8,83.3 673.5,82.9 674.2,82.6 674.9,82.3 675.6,82.1 676.4,81.8 677.1,81.6 677.9,81.5 678.7,81.3 679.5,81.2 680.3,81.0 681.2,80.9 682,80.8 682.8,80.8 683.6,80.7 684.5,80.6 685.3,80.6 686.1,80.5 686.9,80.5 687.7,80.5 688.6,80.4 689.4,80.4 690.2,80.4 691,80.4 691.8,80.4 692.5,80.4 693.3,80.4 694.1,80.5 694.9,80.5 695.7,80.6 696.4,80.7 697.2,80.8 697.9,80.9 698.7,81.1 699.4,81.2 700.2,81.4 700.9,81.6 701.7,81.9 702.4,82.1 703.1,82.4 703.9,82.6 704.6,82.9 705.4,83.2 706.1,83.4 706.9,83.7 707.6,84.0 708.4,84.3 709.1,84.5 709.9,84.8 710.7,85.0 711.5,85.3 712.3,85.5" stroke="#00e632" stroke-width="1.65"/>
<path d="M424.4,109.3 425.2,109.2 426,109.0 426.7,108.8 427.4,108.5 428.1,108.2 428.8,107.8 429.4,107.4 430,106.9 430.6,106.4 431.1,105.9 431.7,105.3 432.2,104.7 432.8,104.1 433.3,103.5 433.8,102.9 434.3,102.3 434.9,101.7 435.4,101.0 435.9,100.4 436.5,99.9 437.1,99.3 437.7,98.8 438.3,98.3 438.9,97.8 439.5,97.4 440.2,97.0 440.9,96.6 441.7,96.3 442.4,96.0 443.2,95.8 444,95.6 444.7,95.3 445.5,95.1 446.3,94.9 447,94.6 447.8,94.4 448.5,94.1 449.2,93.8 449.8,93.4 450.4,93.0 451,92.6 451.5,92.1 452,91.5 452.4,90.9 452.9,90.2 453.2,89.6 453.6,88.8 453.9,88.1 454.3,87.3 454.6,86.5 455,85.7 455.3,84.9 455.7,84.1 456,83.3 456.4,82.5 456.9,81.8 457.3,81.0 457.8,80.3 458.4,79.7 459,79.0 459.6,78.5 460.2,78.0 460.9,77.5 461.6,77.2 462.2,76.9 462.9,76.8 463.6,76.7 464.2,76.7 464.9,76.9 465.5,77.1 466.1,77.5 466.6,77.9 467.2,78.4 467.8,79.0 468.3,79.7 468.8,80.3 469.3,81.1 469.8,81.9 470.3,82.7 470.8,83.5 471.2,84.3 471.7,85.1 472.1,86.0 472.6,86.7 473,87.5 473.4,88.2 473.8,88.9 474.3,89.5 474.7,90.0 475.1,90.4 475.5,90.8 475.9,91.0 476.3,91.1 476.7,91.0 477.1,90.8 477.5,90.5 477.9,90.1 478.3,89.6 478.7,89.1 479.1,88.5 479.5,87.9 479.9,87.3 480.2,86.6 480.5,85.9 480.9,85.3 481.2,84.6 481.5,83.8 481.8,83.1 482.1,82.4 482.4,81.6 482.7,80.8 483,80.1 483.3,79.3 483.6,78.5 483.8,77.7 484.1,76.9 484.4,76.1 484.6,75.2 484.9,74.4 485.2,73.6 485.4,72.8 485.7,72.0 486,71.1 486.2,70.3 486.5,69.5 486.8,68.7 487,67.9 487.3,67.1 487.6,66.3 487.9,65.5 488.2,64.7 488.4,64.0 488.7,63.2 489.1,62.5 489.4,61.8 489.7,61.0 490,60.3 490.4,59.6 490.7,58.9 491.1,58.2 491.5,57.6 491.9,56.9 492.3,56.3 492.7,55.6 493.1,55.0 493.6,54.3 494.1,53.7 494.6,53.1 495.1,52.5 495.6,51.9 496.2,51.3 496.8,50.7 497.4,50.1 498,49.5 498.7,49.0 499.3,48.5 500,48.1 500.7,47.7 501.4,47.3 502.1,47.1 502.8,46.9 503.5,46.7 504.2,46.7 504.9,46.8 505.6,46.9 506.3,47.2 507,47.5 507.7,47.9 508.4,48.3 509.1,48.8 509.7,49.4 510.3,50.0 510.9,50.6 511.5,51.3 512,51.9 512.5,52.6 513,53.3 513.4,54.0 513.8,54.7 514.2,55.4 514.5,56.2 514.9,56.9 515.2,57.6 515.4,58.4 515.7,59.1 515.9,59.9 516.1,60.7 516.3,61.4 516.5,62.2 516.7,63.0 516.9,63.7 517,64.5 517.2,65.3 517.3,66.1 517.5,66.9 517.6,67.7 517.7,68.5 517.9,69.2 518,70.0 518.1,70.8 518.3,71.6 518.4,72.4 518.6,73.2 518.7,74.0 518.9,74.8 519,75.6 519.2,76.3 519.3,77.1 519.5,77.9 519.6,78.7 519.8,79.5 520,80.3 520.1,81.1 520.3,81.9 520.5,82.6 520.6,83.4 520.8,84.2 521,85.0 521.1,85.8 521.3,86.6 521.4,87.4 521.6,88.2 521.8,89.0 521.9,89.7 522.1,90.5 522.3,91.3 522.4,92.1 522.6,92.9 522.8,93.7 522.9,94.5 523.1,95.3 523.3,96.0 523.4,96.8 523.6,97.6 523.7,98.4 523.9,99.2 524,100.0 524.2,100.8 524.3,101.6 524.5,102.4 524.6,103.1 524.8,103.9 524.9,104.7 525.1,105.5 525.2,106.3 525.4,107.1 525.5,107.9 525.6,108.7 525.8,109.5 525.9,110.3 526,111.0 526.1,111.8 526.3,112.6 526.4,113.4 526.5,114.2 526.6,115.0 526.8,115.8 526.9,116.6 527,117.4 527.1,118.2 527.2,119.0 527.3,119.7 527.5,120.5 527.6,121.3 527.7,122.1 527.8,122.9 527.9,123.7 528,124.5 528.1,125.3 528.2,126.1 528.3,126.9 528.4,127.7 528.5,128.5 528.6,129.3 528.7,130.1 528.8,130.9 528.9,131.7 529,132.5 529,133.3 529.1,134.1 529.2,134.9 529.3,135.6 529.4,136.4 529.5,137.2 529.6,138.0 529.6,138.8 529.7,139.6 529.8,140.4 529.9,141.2 529.9,142.0 530,142.8 530.1,143.6 530.2,144.4 530.2,145.3 530.3,146.1 530.4,146.9 530.4,147.7 530.5,148.5 530.6,149.3 530.6,150.1 530.7,150.9 530.8,151.7 530.8,152.5 530.9,153.3 531,154.1 531,154.9 531.1,155.7 531.1,156.5 531.2,157.3 531.2,158.1 531.3,159.0 531.4,159.8 531.4,160.6 531.5,161.4 531.5,162.2 531.6,163.0 531.6,163.8 531.7,164.6 531.8,165.4 531.8,166.2 531.9,167.0 531.9,167.8 532,168.6 532.1,169.4 532.1,170.2 532.2,171.0 532.3,171.8 532.4,172.6 532.4,173.4 532.5,174.2 532.6,175.0 532.7,175.8 532.8,176.6 532.9,177.4 533,178.2 533.1,178.9 533.2,179.7 533.3,180.5 533.4,181.3 533.6,182.0 533.7,182.8 533.8,183.6 534,184.3 534.1,185.1 534.3,185.8 534.4,186.6 534.6,187.3 534.8,188.1 534.9,188.8 535.1,189.5 535.3,190.3 535.5,191.0 535.7,190.2 535.9,189.5 536,188.7 536.2,187.9 536.4,187.1 536.5,186.4 536.7,185.6 536.8,184.8 536.9,184.0 537.1,183.2 537.2,182.4 537.3,181.6 537.5,180.8 537.6,180.0 537.7,179.2 537.8,178.4 537.9,177.6 538,176.8 538.1,176.0 538.2,175.2 538.3,174.4 538.4,173.6 538.5,172.8 538.6,172.0 538.7,171.2 538.8,170.4 538.9,169.5 539,168.7 539.1,167.9 539.2,167.1 539.3,166.3 539.3,165.5 539.4,164.7 539.5,163.9 539.6,163.1 539.7,162.3 539.8,161.5 539.9,160.7 540,159.9 540.1,159.1 540.2,158.3 540.3,157.5 540.4,156.7 540.5,155.9 540.6,155.1 540.7,154.3 540.8,153.5 540.9,152.7 541,152.0 541.1,151.2 541.3,150.4 541.4,149.6 541.5,148.8 541.6,148.1 541.8,147.3 541.9,146.5 542,145.7 542.2,144.9 542.3,144.2 542.4,143.4 542.6,142.6 542.7,141.8 542.9,141.0 543,140.3 543.2,139.5 543.3,138.7 543.5,137.9 543.6,137.1 543.8,136.3 543.9,135.5 544.1,134.7 544.3,133.9 544.4,133.2 544.6,132.4 544.8,131.5 544.9,130.7 545.1,129.9 545.3,129.1 545.5,128.3 545.6,127.5 545.8,126.7 546,125.8 546.2,125.0 546.4,124.2 546.6,123.3 546.8,122.5 547,121.7 547.2,120.8 547.4,120.0 547.6,119.2 547.9,118.4 548.2,117.6 548.5,116.9 548.8,116.1 549.1,115.4 549.5,114.8 549.9,114.1 550.3,113.6 550.8,113.0 551.3,112.5 551.9,112.1 552.5,111.7 553.2,111.4 553.9,111.1 554.6,110.9 555.3,110.8 556,110.9 556.6,111.1 557.2,111.3 557.7,111.7 558.3,112.2 558.8,112.8 559.2,113.4 559.7,114.2 560.1,114.9 560.5,115.7 560.8,116.6 561.2,117.4 561.5,118.3 561.8,119.2 562.1,120.0 562.4,120.9 562.7,121.8 563.1,122.6 563.4,123.4 563.7,124.2 564.1,124.9 564.5,125.7 564.9,126.4 565.3,127.1 565.8,127.7 566.4,128.2 566.9,128.6 567.5,128.9 568,129.0 568.6,128.9 569.1,128.7 569.6,128.3 570.1,127.8 570.6,127.2 571,126.6 571.4,126.0 571.8,125.4 572.1,124.7 572.5,124.0 572.8,123.3 573,122.6 573.3,121.8 573.5,121.1 573.8,120.3 574,119.5 574.2,118.7 574.4,117.9 574.6,117.1 574.8,116.2 575.1,115.4 575.3,114.6 575.5,113.7 575.8,112.9 576,112.1 576.3,111.2 576.6,110.4 576.9,109.6 577.2,108.7 577.6,107.9 578,107.1 578.4,106.4 578.8,105.7 579.3,105.0 579.8,104.3 580.3,103.7 580.8,103.2 581.4,102.8 582,102.4 582.6,102.1 583.2,101.9 583.9,101.7 584.6,101.7 585.3,101.8 586.1,102.0 586.8,102.2 587.6,102.5 588.3,102.9 589.1,103.3 589.8,103.7 590.5,104.1 591.2,104.5 592,104.9 592.7,105.2 593.4,105.4 594.1,105.5 594.9,105.5 595.6,105.3 596.4,105.1 597.1,104.7 597.9,104.3 598.6,103.9 599.4,103.4 600.2,102.9 600.9,102.4 601.7,101.9 602.4,101.6 603.1,101.2 603.8,101.0 604.5,100.9 605.2,101.0 605.9,101.2 606.5,101.5 607.2,101.8 607.8,102.3 608.4,102.7 609,103.2 609.6,103.7 610.2,104.2 610.8,104.8 611.4,105.3 612,105.9 612.6,106.4 613.1,107.0 613.7,107.6 614.2,108.2 614.8,108.9 615.3,109.5 615.8,110.1 616.4,110.8 616.9,111.4 617.4,112.1 617.9,112.8 618.3,113.4 618.8,114.1 619.3,114.8 619.7,115.4 620.2,116.1 620.6,116.8 621.1,117.5 621.5,118.2 621.9,118.9 622.3,119.6 622.7,120.3 623.1,121.0 623.5,121.7 623.9,122.4 624.2,123.1 624.6,123.8 625,124.5 625.3,125.2 625.6,125.9 626,126.6 626.3,127.4 626.6,128.1 627,128.8 627.3,129.6 627.6,130.3 627.9,131.0 628.2,131.8 628.4,132.5 628.7,133.2 629,134.0 629.3,134.7 629.5,135.5 629.8,136.2 630,137.0 630.3,137.7 630.5,138.5 630.8,139.3 631,140.0 631.2,140.8 631.5,141.5 631.7,142.3 631.9,143.1 632.1,143.8 632.3,144.6 632.5,145.4 632.7,146.2 632.9,146.9 633.1,147.7 633.3,148.5 633.5,149.3 633.7,150.1 633.8,150.8 634,151.6 634.2,152.4 634.4,153.2 634.5,154.0 634.7,154.8 634.8,155.5 635,156.3 635.2,157.1 635.3,157.9 635.5,158.7 635.6,159.5 635.8,160.3 635.9,161.1 636.1,161.9 636.2,162.7 636.3,163.5 636.5,164.3 636.6,165.0 636.8,165.8 636.9,166.6 637,167.4 637.2,168.2 637.3,169.0 637.4,169.8 637.6,170.6 637.7,171.4 637.8,172.2 638,173.0 638.1,173.8 638.2,174.6 638.4,175.4 638.5,176.2 638.6,177.0 638.8,177.8 638.9,178.6 639,179.4 639.2,180.2 639.3,181.0 639.4,181.8 639.6,182.5 639.7,183.3 639.9,184.1 640,184.9 640.2,185.7 640.3,186.5 640.5,185.7 640.7,185.0 640.9,184.2 641,183.4 641.2,182.6 641.4,181.9 641.6,181.1 641.7,180.3 641.9,179.5 642.1,178.7 642.2,178.0 642.4,177.2 642.5,176.4 642.7,175.6 642.9,174.8 643,174.0 643.2,173.3 643.3,172.5 643.4,171.7 643.6,170.9 643.7,170.1 643.9,169.3 644,168.5 644.1,167.7 644.3,166.9 644.4,166.1 644.6,165.3 644.7,164.5 644.8,163.7 644.9,162.9 645.1,162.1 645.2,161.3 645.3,160.5 645.5,159.7 645.6,158.9 645.7,158.1 645.8,157.3 646,156.5 646.1,155.7 646.2,154.9 646.4,154.1 646.5,153.3 646.6,152.5 646.7,151.7 646.9,150.9 647,150.1 647.1,149.3 647.3,148.5 647.4,147.7 647.5,146.9 647.7,146.1 647.8,145.3 647.9,144.5 648.1,143.7 648.2,142.9 648.3,142.1 648.5,141.3 648.6,140.5 648.8,139.7 648.9,138.9 649.1,138.1 649.2,137.3 649.4,136.5 649.5,135.8 649.7,135.0 649.8,134.2 650,133.4 650.1,132.6 650.3,131.8 650.5,131.0 650.7,130.2 650.8,129.4 651,128.6 651.2,127.8 651.4,127.1 651.5,126.3 651.7,125.5 651.9,124.7 652.1,123.9 652.3,123.1 652.5,122.4 652.7,121.6 652.9,120.8 653.1,120.0 653.4,119.3 653.6,118.5 653.8,117.7 654,116.9 654.3,116.2 654.5,115.4 654.7,114.6 655,113.9 655.2,113.1 655.5,112.4 655.8,111.6 656,110.8 656.3,110.1 656.6,109.3 656.8,108.6 657.1,107.8 657.4,107.1 657.7,106.3 658,105.6 658.3,104.9 658.6,104.1 658.9,103.4 659.3,102.6 659.6,101.9 659.9,101.2 660.3,100.4 660.6,99.7 661,99.0 661.3,98.3 661.7,97.6 662.1,96.8 662.4,96.1 662.8,95.4 663.2,94.7 663.6,94.0 664,93.3 664.4,92.6 664.9,91.9 665.3,91.2 665.7,90.5 666.2,89.8 666.6,89.2 667.1,88.5 667.6,87.9 668.1,87.2 668.6,86.6 669.1,86.1 669.7,85.5 670.3,85.0 670.9,84.5 671.5,84.1 672.1,83.7 672.8,83.3 673.5,82.9 674.2,82.6 674.9,82.3 675.6,82.1 676.4,81.8 677.1,81.6 677.9,81.5 678.7,81.3 679.5,81.2 680.3,81.0 681.2,80.9 682,80.8 682.8,80.8 683.6,80.7 684.5,80.6 685.3,80.6 686.1,80.5 686.9,80.5 687.7,80.5 688.6,80.4 689.4,80.4 690.2,80.4 691,80.4 691.8,80.4 692.5,80.4 693.3,80.4 694.1,80.5 694.9,80.5 695.7,80.6 696.4,80.7 697.2,80.8 697.9,80.9 698.7,81.1 699.4,81.2 700.2,81.4 700.9,81.6 701.7,81.9 702.4,82.1 703.1,82.4 703.9,82.6 704.6,82.9 705.4,83.2 706.1,83.4 706.9,83.7 707.6,84.0 708.4,84.3 709.1,84.5 709.9,84.8 710.7,85.0 711.5,85.3 712.3,85.5" stroke="#0000ff" stroke-dasharray="2.7 1.7" stroke-width="1.65"/>
<path d="M424.4,29.3 425.2,29.3 426,29.3 426.8,29.3 427.6,29.3 428.4,29.2 429.2,29.2 430,29.2 430.8,29.1 431.7,29.1 432.5,29.1 433.3,29.1 434.1,29.1 434.9,29.0 435.7,29.1 436.6,29.1 437.4,29.1 438.2,29.2 439,29.2 439.8,29.3 440.6,29.4 441.4,29.6 442.2,29.7 442.9,29.9 443.7,30.1 444.5,30.4 445.3,30.6 446,30.9 446.8,31.3 447.5,31.7 448.2,32.1 449,32.5 449.7,32.9 450.4,33.4 451.1,33.8 451.8,34.3 452.6,34.7 453.3,35.2 454,35.6 454.7,36.0 455.4,36.4 456.1,36.7 456.8,37.0 457.6,37.3 458.3,37.5 459,37.6 459.8,37.7 460.5,37.7 461.3,37.7 462,37.6 462.8,37.4 463.6,37.3 464.4,37.1 465.2,36.9 466,36.7 466.8,36.5 467.6,36.4 468.4,36.3 469.2,36.3 469.9,36.4 470.6,36.6 471.2,36.8 471.8,37.2 472.3,37.8 472.7,38.4 473.1,39.1 473.5,39.9 473.9,40.6 474.3,41.4 474.7,42.1 475.1,42.8 475.5,43.6 475.9,44.3 476.2,45.0 476.6,45.8 477,46.5 477.3,47.2 477.7,48.0 478,48.7 478.3,49.4 478.7,50.2 479,50.9 479.3,51.7 479.6,52.4 479.8,53.2 480.1,53.9 480.4,54.7 480.6,55.5 480.9,56.2 481.1,57.0 481.3,57.8 481.5,58.5 481.8,59.3 482,60.1 482.2,60.9 482.4,61.7 482.6,62.5 482.8,63.3 483,64.1 483.2,64.8 483.4,65.6 483.6,66.4 483.7,67.2 483.9,68.0 484.1,68.8 484.4,69.6 484.6,70.3 484.8,71.1 485,71.9 485.2,72.7 485.5,73.4 485.7,74.2 486,75.0 486.2,75.7 486.5,76.5 486.8,77.2 487.1,77.9 487.4,78.7 487.8,79.4 488.1,80.1 488.5,80.7 488.9,81.4 489.4,82.1 489.8,82.7 490.3,83.4 490.8,84.0 491.3,84.6 491.9,85.1 492.5,85.7 493.1,86.3 493.6,86.9 494.2,87.4 494.7,88.0 495.2,88.7 495.7,89.3 496.1,90.0 496.5,90.6 496.9,91.3 497.3,92.0 497.6,92.7 498,93.4 498.3,94.2 498.6,94.9 498.8,95.7 499.1,96.4 499.3,97.2 499.5,98.0 499.7,98.8 499.9,99.5 500.1,100.3 500.3,101.1 500.5,102.0 500.6,102.8 500.8,103.6 500.9,104.4 501,105.2 501.2,106.1 501.3,106.9 501.4,107.7 501.5,108.5 501.7,109.4 501.8,110.2 501.9,111.0 502,111.8 502.2,112.7 502.3,113.5 502.5,114.3 502.6,115.1 502.8,115.9 502.9,116.7 503.1,117.5 503.3,118.2 503.5,119.0 503.7,119.8 503.9,120.5 504.2,121.3 504.4,122.0 504.7,122.7 504.9,121.9 505.2,121.1 505.4,120.4 505.6,119.6 505.8,118.8 506,118.0 506.2,117.3 506.3,116.5 506.5,115.7 506.7,114.9 506.9,114.1 507,113.4 507.2,112.6 507.3,111.8 507.4,111.0 507.6,110.2 507.7,109.4 507.8,108.6 508,107.9 508.1,107.1 508.2,106.3 508.3,105.5 508.4,104.7 508.5,103.9 508.6,103.1 508.7,102.3 508.8,101.5 508.9,100.7 508.9,100.0 509,99.2 509.1,98.4 509.2,97.6 509.2,96.8 509.3,96.0 509.4,95.2 509.4,94.4 509.5,93.6 509.6,92.8 509.6,92.0 509.7,91.2 509.7,90.4 509.8,89.6 509.8,88.8 509.9,88.0 509.9,87.2 510,86.4 510.1,85.6 510.1,84.8 510.2,84.0 510.2,83.2 510.3,82.4 510.3,81.6 510.4,80.8 510.4,80.0 510.5,79.2 510.5,78.4 510.6,77.6 510.7,76.8 510.7,76.0 510.8,75.2 510.8,74.4 510.9,73.6 511,72.8 511.1,72.0 511.1,71.2 511.2,70.4 511.3,69.5 511.4,68.7 511.5,67.9 511.6,67.1 511.6,66.3 511.7,65.5 511.8,64.7 511.9,63.9 512,63.1 512.2,62.3 512.3,61.5 512.4,60.7 512.5,59.9 512.6,59.1 512.7,58.3 512.9,57.5 513,56.7 513.1,55.9 513.3,55.1 513.4,54.3 513.5,53.5 513.7,52.7 513.8,52.0 514,51.2 514.1,50.4 514.3,49.6 514.4,48.8 514.6,48.1 514.8,47.3 514.9,46.5 515.1,45.7 515.3,45.0 515.5,44.2 515.6,43.5 515.8,42.7 516,41.9 516.2,41.2 516.4,40.4 516.6,39.7 516.8,38.9 517,38.2 517.2,37.4 517.4,36.6 517.6,35.9 517.8,35.1 518,34.3 518.2,33.5 518.4,32.7 518.6,31.8 518.7,31.0 518.9,30.1 519.2,29.3 519.4,28.5 519.6,27.6 519.8,26.8 520.1,26.0 520.4,25.2 520.7,24.4 521,23.7 521.4,23.0 521.8,22.3 522.2,21.6 522.6,21.0 523.1,20.5 523.7,19.9 524.3,19.5 524.9,19.1 525.5,18.7 526.2,18.4 526.9,18.1 527.7,17.9 528.4,17.7 529.2,17.5 530,17.4 530.8,17.4 531.6,17.4 532.4,17.4 533.2,17.4 534,17.6 534.8,17.7 535.6,17.9 536.4,18.1 537.1,18.4 537.9,18.7 538.6,19.0 539.3,19.4 539.9,19.8 540.6,20.2 541.2,20.7 541.8,21.2 542.4,21.7 543,22.2 543.5,22.8 544.1,23.4 544.6,24.1 545.1,24.8 545.6,25.4 546.1,26.1 546.6,26.9 547.1,27.6 547.6,28.3 548.1,29.1 548.5,29.8 549,30.5 549.5,31.2 550,31.9 550.5,32.6 551,33.3 551.5,33.9 552,34.5 552.6,35.1 553.1,35.6 553.7,36.0 554.3,36.5 554.9,36.8 555.6,37.1 556.2,37.4 556.9,37.5 557.6,37.6 558.3,37.6 559,37.5 559.6,37.3 560.3,37.0 561,36.6 561.6,36.2 562.3,35.7 563,35.2 563.7,34.7 564.3,34.2 565,33.7 565.8,33.3 566.5,32.9 567.2,32.6 567.9,32.3 568.6,32.1 569.3,32.0 570,32.0 570.6,32.0 571.3,32.2 571.9,32.4 572.4,32.8 573,33.3 573.5,33.8 574.1,34.4 574.6,35.0 575.1,35.7 575.6,36.4 576.1,37.1 576.7,37.9 577.2,38.6 577.8,39.2 578.4,39.9 579,40.5 579.6,41.0 580.3,41.5 581,42.0 581.7,42.4 582.5,42.8 583.2,43.1 583.9,43.5 584.7,43.8 585.4,44.1 586.2,44.4 586.9,44.8 587.7,45.1 588.4,45.5 589,45.8 589.7,46.2 590.4,46.7 591,47.1 591.6,47.6 592.2,48.0 592.8,48.5 593.4,49.0 594,49.6 594.5,50.1 595,50.7 595.6,51.3 596.1,51.8 596.6,52.4 597.1,53.1 597.6,53.7 598,54.3 598.5,54.9 599,55.6 599.4,56.3 599.9,56.9 600.3,57.6 600.8,58.3 601.2,58.9 601.6,59.6 602.1,60.3 602.5,61.0 602.9,61.7 603.4,62.4 603.8,63.1 604.2,63.8 604.7,64.4 605.1,65.1 605.6,65.8 606,66.5 606.5,67.2 606.9,67.8 607.4,68.5 607.8,69.2 608.3,69.8 608.7,70.5 609.2,71.2 609.7,71.8 610.1,72.5 610.6,73.1 611,73.8 611.5,74.5 611.9,75.1 612.4,75.8 612.8,76.4 613.3,77.1 613.7,77.8 614.2,78.4 614.6,79.1 615,79.8 615.4,80.4 615.9,81.1 616.3,81.8 616.7,82.5 617.1,83.2 617.4,83.8 617.8,84.5 618.2,85.2 618.6,85.9 618.9,86.6 619.3,87.3 619.6,88.1 619.9,88.8 620.2,89.5 620.6,90.2 620.8,91.0 621.1,91.7 621.4,92.5 621.7,93.2 621.9,94.0 622.2,94.7 622.4,95.5 622.6,96.3 622.9,97.0 623.1,97.8 623.3,98.6 623.5,99.4 623.7,100.2 623.9,101.0 624.1,101.8 624.3,102.5 624.5,103.3 624.6,104.1 624.8,104.9 625,105.7 625.2,106.5 625.4,107.3 625.6,108.1 625.7,108.9 625.9,109.7 626.1,110.5 626.3,111.3 626.5,112.1 626.7,112.8 626.9,113.6 627.2,114.4 627.4,115.2 627.6,116.0 627.8,116.8 628.1,117.5 628.4,118.3 628.6,119.1 628.9,119.8 629.2,120.6 629.5,121.4 629.8,122.1 630.2,122.9 630.5,123.6 630.9,124.4 631.3,125.1 631.7,125.8 632.1,126.6 632.5,127.3 633,128.0 633.4,128.6 633.9,129.1 634.4,129.6 634.9,130.0 635.4,130.3 636,130.4 636.5,130.4 637,130.2 637.6,129.9 638.1,129.5 638.7,129.0 639.2,128.5 639.7,127.8 640.3,127.1 640.8,126.4 641.2,125.7 641.7,124.9 642.1,124.2 642.6,123.4 643,122.7 643.3,121.9 643.7,121.2 644.1,120.4 644.4,119.7 644.7,118.9 645.1,118.1 645.4,117.4 645.6,116.6 645.9,115.9 646.2,115.1 646.5,114.3 646.8,113.6 647,112.8 647.3,112.1 647.5,111.3 647.8,110.6 648.1,109.8 648.3,109.1 648.6,108.4 648.8,107.6 649.1,106.9 649.4,106.1 649.7,105.4 650,104.6 650.3,103.9 650.6,103.2 651,102.4 651.3,101.7 651.7,100.9 652.1,100.2 652.5,99.4 653,98.7 653.4,98.0 653.9,97.3 654.4,96.6 655,96.0 655.5,95.5 656.1,95.0 656.7,94.6 657.3,94.3 658,94.0 658.6,93.9 659.3,93.9 660.1,93.9 660.8,94.1 661.5,94.3 662.3,94.6 663,94.9 663.8,95.3 664.5,95.6 665.3,96.1 666,96.5 666.7,96.9 667.4,97.3 668.1,97.7 668.8,98.1 669.6,98.5 670.3,98.8 671,99.0 671.8,99.2 672.5,99.4 673.3,99.5 674.1,99.5 674.9,99.5 675.7,99.5 676.5,99.5 677.3,99.5 678.1,99.4 678.9,99.4 679.7,99.3 680.6,99.2 681.4,99.2 682.2,99.0 683,98.9 683.8,98.8 684.6,98.6 685.4,98.4 686.1,98.1 686.9,97.8 687.6,97.5 688.2,97.1 688.9,96.7 689.5,96.2 690.1,95.7 690.6,95.2 691.2,94.6 691.7,94.1 692.3,93.5 692.8,92.8 693.3,92.2 693.8,91.6 694.4,91.0 694.9,90.4 695.4,89.8 695.9,89.2 696.5,88.6 697,88.0 697.6,87.4 698.1,86.8 698.6,86.2 699.2,85.6 699.7,85.0 700.3,84.4 700.8,83.8 701.4,83.2 701.9,82.7 702.5,82.1 703.1,81.5 703.6,80.9 704.2,80.4 704.8,79.8 705.3,79.2 705.9,78.7 706.5,78.1 707,77.6 707.6,77.0 708.2,76.4 708.8,75.9 709.4,75.3 710,74.8 710.5,74.2 711.1,73.7 711.7,73.1 712.3,72.6" stroke="#ff0000" stroke-width="1.8"/>
<path d="M424.4,51.2 425.3,51.1 426.2,51.2 427,51.3 427.9,51.4 428.6,51.7 429.4,52.0 430.1,52.3 430.7,52.7 431.4,53.1 432,53.6 432.6,54.1 433.2,54.7 433.8,55.2 434.3,55.8 434.9,56.5 435.4,57.1 436,57.7 436.5,58.4 437,59.0 437.5,59.7 438.1,60.3 438.6,60.9 439.1,61.5 439.7,62.1 440.3,62.7 440.9,63.2 441.5,63.7 442.1,64.2 442.7,64.6 443.4,64.9 444.1,65.2 444.8,65.5 445.6,65.7 446.4,65.9 447.2,66.0 448,66.1 448.8,66.2 449.6,66.3 450.4,66.4 451.2,66.6 452,66.7 452.7,66.9 453.4,67.2 454.1,67.5 454.7,67.9 455.3,68.4 455.9,68.9 456.4,69.5 456.9,70.1 457.4,70.8 457.9,71.5 458.4,72.2 458.8,72.9 459.3,73.7 459.7,74.4 460.2,75.1 460.7,75.8 461.2,76.4 461.7,77.1 462.3,77.6 462.9,78.1 463.4,78.5 464,78.7 464.6,78.8 465.2,78.7 465.7,78.4 466.2,78.0 466.7,77.4 467.2,76.8 467.6,76.1 468,75.3 468.4,74.6 468.8,73.9 469.1,73.2 469.5,72.5 469.8,71.7 470,71.0 470.3,70.3 470.6,69.5 470.8,68.8 471,68.1 471.2,67.3 471.5,66.5 471.7,65.8 471.9,65.0 472.1,64.2 472.3,63.4 472.5,62.6 472.7,61.7 473,60.9 473.2,60.0 473.5,59.1 473.7,58.3 474,57.4 474.3,56.5 474.6,55.7 474.9,54.9 475.3,54.1 475.6,53.3 476,52.6 476.4,51.9 476.8,51.3 477.3,50.7 477.7,50.2 478.2,49.8 478.8,49.4 479.3,49.1 479.9,48.9 480.5,48.8 481.1,48.8 481.7,48.8 482.3,48.9 482.9,49.1 483.6,49.4 484.2,49.8 484.8,50.3 485.5,50.8 486.1,51.5 486.7,52.2 487.3,52.9 487.8,53.7 488.4,54.5 489,55.3 489.6,56.0 490.1,56.8 490.7,57.5 491.2,58.1 491.7,58.7 492.3,59.2 492.8,59.5 493.3,59.8 493.8,59.9 494.3,59.9 494.8,59.7 495.4,59.3 495.9,58.9 496.4,58.3 496.9,57.7 497.4,57.0 497.8,56.2 498.3,55.4 498.8,54.6 499.3,53.8 499.8,53.0 500.3,52.2 500.8,51.4 501.3,50.8 501.9,50.1 502.4,49.6 503,49.1 503.6,48.7 504.3,48.4 505,48.3 505.8,48.3 506.5,48.3 507.3,48.5 508,48.8 508.6,49.1 509.2,49.5 509.7,50.0 510.1,50.5 510.5,51.1 510.9,51.7 511.2,52.4 511.5,53.1 511.8,53.8 512,54.6 512.2,55.4 512.4,56.2 512.6,57.0 512.8,57.8 513,58.6 513.2,59.4 513.4,60.2 513.6,61.0 513.8,61.8 514,62.6 514.1,63.4 514.3,64.2 514.5,65.0 514.7,65.8 514.8,66.6 515,67.4 515.2,68.2 515.4,69.0 515.5,69.8 515.7,70.6 515.8,71.4 516,72.2 516.2,73.0 516.3,73.8 516.5,74.5 516.6,75.3 516.8,76.1 516.9,76.9 517.1,77.7 517.2,78.5 517.4,79.3 517.5,80.1 517.7,80.9 517.8,81.7 518,82.5 518.1,83.3 518.2,84.1 518.4,84.9 518.5,85.7 518.6,86.5 518.8,87.3 518.9,88.1 519,88.9 519.2,89.7 519.3,90.5 519.4,91.3 519.5,92.0 519.7,92.8 519.8,93.6 519.9,94.4 520,95.2 520.1,96.0 520.3,96.8 520.4,97.6 520.5,98.4 520.6,99.2 520.7,100.0 520.8,100.8 521,101.6 521.1,102.4 521.2,103.2 521.3,104.0 521.4,104.7 521.5,105.5 521.6,106.3 521.7,107.1 521.8,107.9 521.9,108.7 522,109.5 522.1,110.3 522.2,111.1 522.3,111.9 522.4,112.7 522.6,113.5 522.7,114.3 522.8,115.1 522.9,115.8 523,116.6 523.1,117.4 523.2,118.2 523.2,119.0 523.3,119.8 523.4,120.6 523.5,121.4 523.6,122.2 523.7,123.0 523.8,123.8 523.9,124.6 524,125.4 524.1,126.2 524.2,127.0 524.3,127.7 524.4,128.5 524.5,129.3 524.6,130.1 524.7,130.9 524.8,131.7 524.9,132.5 525,133.3 525.1,134.1 525.2,134.9 525.3,135.7 525.4,136.5 525.5,137.3 525.6,138.1 525.6,138.9 525.7,139.7 525.8,140.5 525.9,141.3 526,142.1 526.1,142.8 526.2,143.6 526.3,144.4 526.4,145.2 526.5,146.0 526.6,146.8 526.7,147.6 526.8,148.4 526.9,149.2 527,150.0 527.1,150.8 527.2,151.6 527.3,152.4 527.4,153.2 527.5,154.0 527.6,154.8 527.7,155.6 527.8,156.4 527.9,157.2 528,158.0 528.2,158.8 528.3,159.6 528.4,160.4 528.5,161.2 528.6,162.0 528.7,162.8 528.8,163.6 528.9,164.4 529,165.2 529.2,166.0 529.3,166.8 529.4,167.6 529.5,168.4 529.6,167.6 529.8,166.8 529.9,165.9 530,165.1 530.1,164.3 530.3,163.5 530.4,162.7 530.5,161.9 530.6,161.1 530.7,160.3 530.9,159.5 531,158.7 531.1,157.9 531.2,157.1 531.3,156.3 531.5,155.5 531.6,154.7 531.7,153.9 531.8,153.1 531.9,152.3 532,151.5 532.2,150.7 532.3,149.9 532.4,149.1 532.5,148.4 532.6,147.6 532.7,146.8 532.8,146.0 532.9,145.2 533.1,144.4 533.2,143.6 533.3,142.9 533.4,142.1 533.5,141.3 533.6,140.5 533.7,139.7 533.8,138.9 533.9,138.2 534.1,137.4 534.2,136.6 534.3,135.8 534.4,135.0 534.5,134.3 534.6,133.5 534.7,132.7 534.8,131.9 534.9,131.1 535,130.4 535.2,129.6 535.3,128.8 535.4,128.0 535.5,127.2 535.6,126.4 535.7,125.7 535.8,124.9 535.9,124.1 536.1,123.3 536.2,122.5 536.3,121.7 536.4,120.9 536.5,120.2 536.6,119.4 536.7,118.6 536.9,117.8 537,117.0 537.1,116.2 537.2,115.4 537.3,114.6 537.4,113.8 537.6,113.0 537.7,112.2 537.8,111.4 537.9,110.6 538,109.8 538.1,109.0 538.3,108.2 538.4,107.4 538.5,106.6 538.6,105.8 538.8,105.0 538.9,104.2 539,103.4 539.1,102.6 539.3,101.7 539.4,100.9 539.5,100.1 539.7,99.3 539.8,98.5 539.9,97.6 540.1,96.8 540.2,96.0 540.3,95.1 540.5,94.3 540.6,93.5 540.7,92.6 540.9,91.8 541,91.0 541.2,90.2 541.4,89.3 541.6,88.5 541.7,87.7 542,86.9 542.2,86.2 542.4,85.4 542.7,84.6 542.9,83.9 543.2,83.2 543.5,82.5 543.9,81.8 544.2,81.2 544.6,80.6 545.1,80.0 545.5,79.4 546,78.8 546.5,78.3 547,77.8 547.6,77.4 548.2,77.0 548.9,76.6 549.5,76.3 550.2,76.0 550.9,75.8 551.7,75.7 552.5,75.6 553.3,75.6 554.1,75.6 554.9,75.6 555.7,75.6 556.4,75.5 557.2,75.4 557.8,75.2 558.5,75.0 559.1,74.7 559.6,74.3 560.2,73.9 560.6,73.4 561.1,72.8 561.5,72.2 561.9,71.6 562.3,70.9 562.6,70.3 562.9,69.5 563.3,68.8 563.5,68.0 563.8,67.2 564.1,66.4 564.3,65.6 564.6,64.8 564.8,64.0 565.1,63.2 565.3,62.4 565.6,61.6 565.8,60.8 566,60.0 566.3,59.2 566.5,58.4 566.8,57.6 567.1,56.9 567.4,56.1 567.7,55.3 568,54.6 568.4,53.8 568.7,53.1 569.1,52.4 569.5,51.7 570,51.0 570.4,50.4 570.9,49.7 571.4,49.1 572,48.6 572.5,48.0 573.1,47.5 573.8,47.1 574.4,46.6 575.1,46.2 575.8,45.8 576.5,45.5 577.2,45.1 577.9,44.8 578.7,44.5 579.4,44.2 580.2,43.9 580.9,43.6 581.7,43.3 582.4,43.0 583.1,42.7 583.8,42.3 584.5,42.0 585.2,41.5 585.8,41.1 586.5,40.7 587.1,40.2 587.7,39.7 588.3,39.2 588.9,38.7 589.6,38.2 590.2,37.7 590.8,37.2 591.5,36.8 592.1,36.3 592.8,35.8 593.5,35.4 594.1,35.0 594.8,34.6 595.6,34.2 596.3,33.8 597,33.4 597.7,33.1 598.4,32.7 599.2,32.3 599.9,32.0 600.7,31.6 601.4,31.3 602.1,30.9 602.9,30.6 603.6,30.3 604.3,29.9 605,29.5 605.8,29.2 606.5,28.8 607.2,28.4 607.9,28.1 608.5,27.7 609.2,27.3 609.9,26.9 610.6,26.5 611.2,26.1 611.9,25.6 612.5,25.2 613.2,24.8 613.8,24.3 614.4,23.9 615.1,23.5 615.7,23.0 616.4,22.6 617,22.1 617.6,21.7 618.3,21.2 618.9,20.8 619.6,20.3 620.2,19.9 620.9,19.4 621.6,19.0 622.2,18.6 622.9,18.1 623.6,17.7 624.3,17.2 625,16.8 625.7,16.4 626.5,15.9 627.2,15.5 628,15.1 628.7,14.7 629.5,14.3 630.3,13.9 631.1,13.6 631.9,13.3 632.7,12.9 633.5,12.6 634.3,12.4 635,12.2 635.8,12.0 636.6,11.8 637.4,11.7 638.2,11.6 638.9,11.5 639.7,11.5 640.4,11.6 641.1,11.7 641.8,11.8 642.5,12.0 643.2,12.3 643.9,12.6 644.5,12.9 645.2,13.3 645.8,13.7 646.4,14.2 647,14.7 647.6,15.2 648.1,15.8 648.7,16.4 649.2,17.0 649.8,17.6 650.3,18.3 650.8,18.9 651.3,19.6 651.8,20.3 652.3,21.0 652.8,21.7 653.3,22.4 653.7,23.1 654.2,23.9 654.7,24.6 655.1,25.3 655.5,25.9 656,26.6 656.4,27.3 656.8,28.0 657.3,28.7 657.7,29.3 658.1,30.0 658.5,30.6 658.9,31.3 659.3,31.9 659.7,32.6 660.1,33.2 660.5,33.9 660.9,34.5 661.3,35.2 661.7,35.8 662.2,36.4 662.6,37.1 663,37.7 663.4,38.4 663.8,39.0 664.2,39.7 664.7,40.3 665.1,41.0 665.5,41.7 666,42.3 666.4,43.0 666.9,43.7 667.3,44.4 667.8,45.1 668.3,45.8 668.7,46.4 669.2,47.1 669.7,47.8 670.2,48.5 670.7,49.2 671.2,49.9 671.8,50.5 672.3,51.2 672.8,51.9 673.4,52.5 673.9,53.1 674.5,53.8 675.1,54.4 675.6,55.0 676.2,55.6 676.8,56.1 677.4,56.7 678,57.2 678.6,57.8 679.2,58.3 679.9,58.7 680.5,59.2 681.2,59.6 681.8,60.0 682.5,60.4 683.2,60.8 683.8,61.1 684.5,61.4 685.2,61.7 686,61.9 686.7,62.1 687.4,62.3 688.1,62.5 688.9,62.6 689.6,62.6 690.4,62.7 691.2,62.7 691.9,62.7 692.7,62.7 693.5,62.6 694.3,62.5 695.1,62.4 695.9,62.3 696.7,62.1 697.5,61.9 698.2,61.7 699,61.5 699.8,61.3 700.6,61.0 701.4,60.8 702.2,60.5 703,60.2 703.7,59.9 704.5,59.5 705.3,59.2 706,58.9 706.7,58.5 707.5,58.2 708.2,57.8 708.9,57.5 709.6,57.1 710.3,56.7 711,56.3 711.6,56.0 712.3,55.6" stroke="#000000" stroke-width="1.6"/>
</g>
<path d="M431.8,146.2H448.3" stroke="#000000" stroke-width="2.8"/>
<text x="450.2" y="151.6" font-size="22.5" font-family="'Liberation Serif', serif">|</text>
<text x="455.1" y="152.3" font-size="23.6" font-weight="bold" font-family="'Liberation Serif', serif">S</text>
<text x="467.4" y="156.4" font-size="14.8" font-weight="bold" font-family="'Liberation Serif', serif">11</text>
<text x="482.3" y="151.6" font-size="22.5" font-family="'Liberation Serif', serif">|</text>
<path d="M431.8,171.45h8.7M445,171.45H448.3" stroke="#0000ff" stroke-width="2.8"/>
<text x="450.2" y="178.4" font-size="22.5" font-family="'Liberation Serif', serif">|</text>
<text x="455.1" y="179.1" font-size="23.6" font-weight="bold" font-family="'Liberation Serif', serif">S</text>
<text x="467.4" y="183.2" font-size="14.8" font-weight="bold" font-family="'Liberation Serif', serif">21</text>
<text x="482.3" y="178.4" font-size="22.5" font-family="'Liberation Serif', serif">|</text>
<path d="M431.8,196.7H448.3" stroke="#00e632" stroke-width="2.8"/>
<text x="450.2" y="205.2" font-size="22.5" font-family="'Liberation Serif', serif">|</text>
<text x="455.1" y="205.9" font-size="23.6" font-weight="bold" font-family="'Liberation Serif', serif">S</text>
<text x="467.4" y="210" font-size="14.8" font-weight="bold" font-family="'Liberation Serif', serif">12</text>
<text x="482.3" y="205.2" font-size="22.5" font-family="'Liberation Serif', serif">|</text>
<path d="M431.8,221.95H448.3" stroke="#ff0000" stroke-width="2.8"/>
<text x="450.2" y="232" font-size="22.5" font-family="'Liberation Serif', serif">|</text>
<text x="455.1" y="232.7" font-size="23.6" font-weight="bold" font-family="'Liberation Serif', serif">S</text>
<text x="467.4" y="236.8" font-size="14.8" font-weight="bold" font-family="'Liberation Serif', serif">22</text>
<text x="482.3" y="232" font-size="22.5" font-family="'Liberation Serif', serif">|</text>
<path d="M524.1,7.4V247.2" stroke="#edb120" stroke-width="2.8" stroke-dasharray="8.2 7.33" stroke-dashoffset="3.35"/>
<path d="M540.4,7.4V247.2" stroke="#edb120" stroke-width="2.8" stroke-dasharray="8.2 7.33" stroke-dashoffset="5.95"/>
<path d="M522.7,7.4H527.3M534.7,7.4H541.8" stroke="#edb120" stroke-width="2.8"/>
<path d="M528.5,247.2H536.9" stroke="#edb120" stroke-width="2.8"/>
<path d="M631,7.4V247.2" stroke="#edb120" stroke-width="2.8" stroke-dasharray="8.2 7.33" stroke-dashoffset="3.35"/>
<path d="M647.6,7.4V247.2" stroke="#edb120" stroke-width="2.8" stroke-dasharray="8.2 7.33" stroke-dashoffset="5.95"/>
<path d="M629.6,7.4H634.2M641.6,7.4H649" stroke="#edb120" stroke-width="2.8"/>
<path d="M635.4,247.2H643.8" stroke="#edb120" stroke-width="2.8"/>
<text x="54.6" y="23.05" font-size="22" font-weight="bold" text-anchor="end" font-family="'Liberation Serif', serif">0</text>
<text x="54.6" y="57.48" font-size="22" font-weight="bold" text-anchor="end" font-family="'Liberation Serif', serif">-5</text>
<text x="54.6" y="96.12" font-size="22" font-weight="bold" text-anchor="end" font-family="'Liberation Serif', serif">-10</text>
<text x="54.6" y="134.75" font-size="22" font-weight="bold" text-anchor="end" font-family="'Liberation Serif', serif">-15</text>
<text x="54.6" y="173.38" font-size="22" font-weight="bold" text-anchor="end" font-family="'Liberation Serif', serif">-20</text>
<text x="54.6" y="212.02" font-size="22" font-weight="bold" text-anchor="end" font-family="'Liberation Serif', serif">-25</text>
<text x="54.6" y="247.45" font-size="22" font-weight="bold" text-anchor="end" font-family="'Liberation Serif', serif">-30</text>
<text x="63.5" y="263.3" font-size="21.8" font-weight="bold" text-anchor="middle" font-family="'Liberation Serif', serif">4.6</text>
<text x="130.4" y="263.3" font-size="21.8" font-weight="bold" text-anchor="middle" font-family="'Liberation Serif', serif">4.8</text>
<text x="204.05" y="263.3" font-size="21.8" font-weight="bold" text-anchor="middle" font-family="'Liberation Serif', serif">5</text>
<text x="276.3" y="263.3" font-size="21.8" font-weight="bold" text-anchor="middle" font-family="'Liberation Serif', serif">5.2</text>
<text x="344.5" y="263.3" font-size="21.8" font-weight="bold" text-anchor="middle" font-family="'Liberation Serif', serif">5.4</text>
<text x="201.9" y="281.8" font-size="22" font-weight="bold" text-anchor="middle" font-family="'Liberation Serif', serif">Frequency (GHz)</text>
<text x="21" y="127.8" font-size="21.8" font-weight="bold" text-anchor="middle" transform="rotate(-90 21 127.8)" font-family="'Liberation Serif', serif">S-parameters (dB)</text>
<text x="191" y="300" font-size="17.5" text-anchor="middle" font-family="'Liberation Serif', serif">(<tspan font-weight="bold">a</tspan>)</text>
<text x="421.3" y="20.35" font-size="21.3" font-weight="bold" text-anchor="end" font-family="'Liberation Serif', serif">0</text>
<text x="421.3" y="54.9" font-size="21.3" font-weight="bold" text-anchor="end" font-family="'Liberation Serif', serif">-5</text>
<text x="421.3" y="94.2" font-size="21.3" font-weight="bold" text-anchor="end" font-family="'Liberation Serif', serif">-10</text>
<text x="421.3" y="133.5" font-size="21.3" font-weight="bold" text-anchor="end" font-family="'Liberation Serif', serif">-15</text>
<text x="421.3" y="172.8" font-size="21.3" font-weight="bold" text-anchor="end" font-family="'Liberation Serif', serif">-20</text>
<text x="421.3" y="212.1" font-size="21.3" font-weight="bold" text-anchor="end" font-family="'Liberation Serif', serif">-25</text>
<text x="421.3" y="247.25" font-size="21.3" font-weight="bold" text-anchor="end" font-family="'Liberation Serif', serif">-30</text>
<text x="430.1" y="263.8" font-size="21.2" font-weight="bold" text-anchor="middle" font-family="'Liberation Serif', serif">4.6</text>
<text x="496.6" y="263.8" font-size="21.2" font-weight="bold" text-anchor="middle" font-family="'Liberation Serif', serif">4.8</text>
<text x="567.15" y="263.8" font-size="21.2" font-weight="bold" text-anchor="middle" font-family="'Liberation Serif', serif">5</text>
<text x="639.75" y="263.8" font-size="21.2" font-weight="bold" text-anchor="middle" font-family="'Liberation Serif', serif">5.2</text>
<text x="705.65" y="263.8" font-size="21.2" font-weight="bold" text-anchor="middle" font-family="'Liberation Serif', serif">5.4</text>
<text x="563.5" y="280.8" font-size="20.9" font-weight="bold" text-anchor="middle" font-family="'Liberation Serif', serif">Frequency (GHz)</text>
<text x="390" y="120" font-size="21" font-weight="bold" text-anchor="middle" transform="rotate(-90 390 120)" font-family="'Liberation Serif', serif">S-parameters (dB)</text>
<text x="555" y="301.4" font-size="17.5" text-anchor="middle" font-family="'Liberation Serif', serif">(<tspan font-weight="bold">b</tspan>)</text>
</svg>
</body></html>
